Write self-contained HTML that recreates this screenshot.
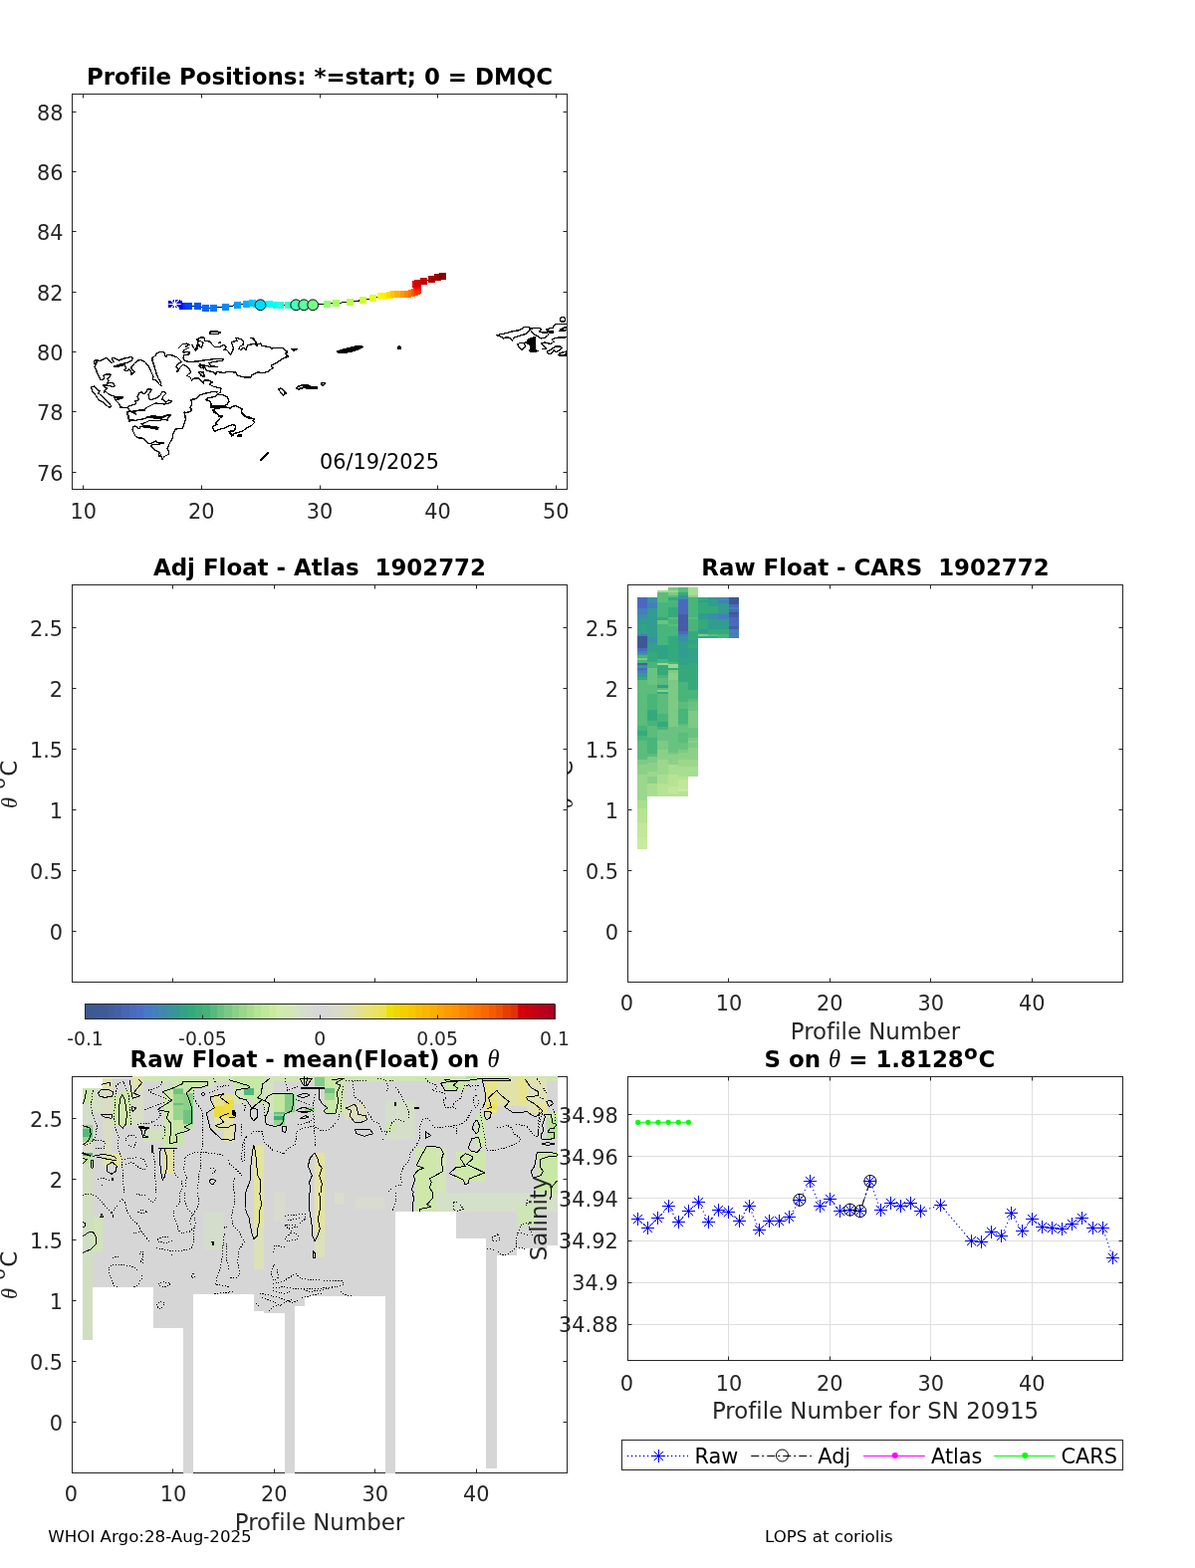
<!DOCTYPE html>
<html><head><meta charset="utf-8"><title>Argo float 1902772</title>
<style>
html,body{margin:0;padding:0;background:#fff;}
body{width:1200px;height:1575px;overflow:hidden;}
svg{display:block;font-family:'DejaVu Sans','Liberation Sans',sans-serif;font-variant-ligatures:none;font-feature-settings:'liga' 0,'clig' 0;}
</style></head><body>
<svg width="1200" height="1575" viewBox="0 0 1200 1575">
<rect x="0" y="0" width="1200" height="1575" fill="#ffffff"/>
<g shape-rendering="crispEdges">
<rect x="640.00" y="600.00" width="10.00" height="11.00" fill="#4c68be" />
<rect x="640.00" y="611.00" width="10.00" height="6.00" fill="#467dbe" />
<rect x="640.00" y="617.00" width="10.00" height="5.00" fill="#3a8ea8" />
<rect x="640.00" y="622.00" width="10.00" height="5.00" fill="#309d8e" />
<rect x="640.00" y="627.00" width="10.00" height="10.00" fill="#30a286" />
<rect x="640.00" y="637.00" width="10.00" height="2.00" fill="#467dbe" />
<rect x="640.00" y="639.00" width="10.00" height="12.00" fill="#3e5894" />
<rect x="640.00" y="651.00" width="10.00" height="3.00" fill="#4c68be" />
<rect x="640.00" y="654.00" width="10.00" height="2.00" fill="#467dbe" />
<rect x="640.00" y="656.00" width="10.00" height="2.00" fill="#309d8e" />
<rect x="640.00" y="658.00" width="10.00" height="3.00" fill="#48b57a" />
<rect x="640.00" y="661.00" width="10.00" height="2.00" fill="#7dca84" />
<rect x="640.00" y="663.00" width="10.00" height="3.00" fill="#48b57a" />
<rect x="640.00" y="666.00" width="10.00" height="2.00" fill="#465ca8" />
<rect x="640.00" y="668.00" width="10.00" height="3.00" fill="#309d8e" />
<rect x="640.00" y="671.00" width="10.00" height="2.00" fill="#4c68be" />
<rect x="640.00" y="673.00" width="10.00" height="3.00" fill="#467dbe" />
<rect x="640.00" y="676.00" width="10.00" height="4.00" fill="#309d8e" />
<rect x="640.00" y="680.00" width="10.00" height="3.00" fill="#34aa7c" />
<rect x="640.00" y="683.00" width="10.00" height="46.00" fill="#5cbc7c" />
<rect x="640.00" y="729.00" width="10.00" height="5.00" fill="#48b57a" />
<rect x="640.00" y="734.00" width="10.00" height="5.00" fill="#34aa7c" />
<rect x="640.00" y="739.00" width="10.00" height="5.00" fill="#48b57a" />
<rect x="640.00" y="744.00" width="10.00" height="19.00" fill="#5cbc7c" />
<rect x="640.00" y="763.00" width="10.00" height="5.00" fill="#7dca84" />
<rect x="640.00" y="768.00" width="10.00" height="10.00" fill="#8cd088" />
<rect x="640.00" y="778.00" width="10.00" height="26.00" fill="#9bd78c" />
<rect x="640.00" y="804.00" width="10.00" height="8.00" fill="#a8de91" />
<rect x="640.00" y="812.00" width="10.00" height="14.00" fill="#b6e394" />
<rect x="640.00" y="826.00" width="10.00" height="15.00" fill="#c2e79b" />
<rect x="640.00" y="841.00" width="10.00" height="12.00" fill="#c8eaa0" />
<rect x="650.00" y="600.00" width="10.00" height="6.00" fill="#3a8ea8" />
<rect x="650.00" y="606.00" width="10.00" height="5.00" fill="#467dbe" />
<rect x="650.00" y="611.00" width="10.00" height="29.00" fill="#309d8e" />
<rect x="650.00" y="640.00" width="10.00" height="5.00" fill="#3a8ea8" />
<rect x="650.00" y="645.00" width="10.00" height="3.00" fill="#309d8e" />
<rect x="650.00" y="648.00" width="10.00" height="7.00" fill="#30a286" />
<rect x="650.00" y="655.00" width="10.00" height="10.00" fill="#34aa7c" />
<rect x="650.00" y="665.00" width="10.00" height="6.00" fill="#48b57a" />
<rect x="650.00" y="671.00" width="10.00" height="17.00" fill="#69c380" />
<rect x="650.00" y="688.00" width="10.00" height="9.00" fill="#5cbc7c" />
<rect x="650.00" y="697.00" width="10.00" height="16.00" fill="#48b57a" />
<rect x="650.00" y="713.00" width="10.00" height="11.00" fill="#34aa7c" />
<rect x="650.00" y="724.00" width="10.00" height="5.00" fill="#48b57a" />
<rect x="650.00" y="729.00" width="10.00" height="12.00" fill="#5cbc7c" />
<rect x="650.00" y="741.00" width="10.00" height="16.00" fill="#48b57a" />
<rect x="650.00" y="757.00" width="10.00" height="3.00" fill="#5cbc7c" />
<rect x="650.00" y="760.00" width="10.00" height="6.00" fill="#7dca84" />
<rect x="650.00" y="766.00" width="10.00" height="9.00" fill="#8cd088" />
<rect x="650.00" y="775.00" width="10.00" height="5.00" fill="#9bd78c" />
<rect x="650.00" y="780.00" width="10.00" height="7.00" fill="#8cd088" />
<rect x="650.00" y="787.00" width="10.00" height="13.00" fill="#a8de91" />
<rect x="660.00" y="593.00" width="11.00" height="2.00" fill="#a8de91" />
<rect x="660.00" y="595.00" width="11.00" height="10.00" fill="#5cbc7c" />
<rect x="660.00" y="605.00" width="11.00" height="15.00" fill="#48b57a" />
<rect x="660.00" y="620.00" width="11.00" height="3.00" fill="#34aa7c" />
<rect x="660.00" y="623.00" width="11.00" height="4.00" fill="#69c380" />
<rect x="660.00" y="627.00" width="11.00" height="21.00" fill="#48b57a" />
<rect x="660.00" y="648.00" width="11.00" height="14.00" fill="#30a286" />
<rect x="660.00" y="662.00" width="11.00" height="4.00" fill="#48b57a" />
<rect x="660.00" y="666.00" width="11.00" height="2.00" fill="#9bd78c" />
<rect x="660.00" y="668.00" width="11.00" height="10.00" fill="#34aa7c" />
<rect x="660.00" y="678.00" width="11.00" height="3.00" fill="#48b57a" />
<rect x="660.00" y="681.00" width="11.00" height="7.00" fill="#5cbc7c" />
<rect x="660.00" y="688.00" width="11.00" height="3.00" fill="#309d8e" />
<rect x="660.00" y="691.00" width="11.00" height="2.00" fill="#5cbc7c" />
<rect x="660.00" y="693.00" width="11.00" height="2.00" fill="#8cd088" />
<rect x="660.00" y="695.00" width="11.00" height="2.00" fill="#34aa7c" />
<rect x="660.00" y="697.00" width="11.00" height="20.00" fill="#5cbc7c" />
<rect x="660.00" y="717.00" width="11.00" height="8.00" fill="#48b57a" />
<rect x="660.00" y="725.00" width="11.00" height="5.00" fill="#34aa7c" />
<rect x="660.00" y="730.00" width="11.00" height="3.00" fill="#48b57a" />
<rect x="660.00" y="733.00" width="11.00" height="11.00" fill="#69c380" />
<rect x="660.00" y="744.00" width="11.00" height="9.00" fill="#7dca84" />
<rect x="660.00" y="753.00" width="11.00" height="10.00" fill="#8cd088" />
<rect x="660.00" y="763.00" width="11.00" height="15.00" fill="#9bd78c" />
<rect x="660.00" y="778.00" width="11.00" height="9.00" fill="#a8de91" />
<rect x="660.00" y="787.00" width="11.00" height="13.00" fill="#b6e394" />
<rect x="671.00" y="590.00" width="10.00" height="3.00" fill="#7dca84" />
<rect x="671.00" y="593.00" width="10.00" height="2.00" fill="#9bd78c" />
<rect x="671.00" y="595.00" width="10.00" height="3.00" fill="#7dca84" />
<rect x="671.00" y="598.00" width="10.00" height="2.00" fill="#5cbc7c" />
<rect x="671.00" y="600.00" width="10.00" height="3.00" fill="#34aa7c" />
<rect x="671.00" y="603.00" width="10.00" height="7.00" fill="#48b57a" />
<rect x="671.00" y="610.00" width="10.00" height="10.00" fill="#34aa7c" />
<rect x="671.00" y="620.00" width="10.00" height="2.00" fill="#5cbc7c" />
<rect x="671.00" y="622.00" width="10.00" height="5.00" fill="#48b57a" />
<rect x="671.00" y="627.00" width="10.00" height="2.00" fill="#5cbc7c" />
<rect x="671.00" y="629.00" width="10.00" height="10.00" fill="#48b57a" />
<rect x="671.00" y="639.00" width="10.00" height="26.00" fill="#34aa7c" />
<rect x="671.00" y="665.00" width="10.00" height="2.00" fill="#48b57a" />
<rect x="671.00" y="667.00" width="10.00" height="4.00" fill="#9bd78c" />
<rect x="671.00" y="671.00" width="10.00" height="2.00" fill="#34aa7c" />
<rect x="671.00" y="673.00" width="10.00" height="3.00" fill="#7dca84" />
<rect x="671.00" y="676.00" width="10.00" height="7.00" fill="#8cd088" />
<rect x="671.00" y="683.00" width="10.00" height="47.00" fill="#7dca84" />
<rect x="671.00" y="730.00" width="10.00" height="26.00" fill="#69c380" />
<rect x="671.00" y="756.00" width="10.00" height="2.00" fill="#7dca84" />
<rect x="671.00" y="758.00" width="10.00" height="10.00" fill="#8cd088" />
<rect x="671.00" y="768.00" width="10.00" height="10.00" fill="#a8de91" />
<rect x="671.00" y="778.00" width="10.00" height="12.00" fill="#b6e394" />
<rect x="671.00" y="790.00" width="10.00" height="7.00" fill="#c2e79b" />
<rect x="671.00" y="797.00" width="10.00" height="3.00" fill="#b6e394" />
<rect x="681.00" y="590.00" width="10.00" height="5.00" fill="#5cbc7c" />
<rect x="681.00" y="595.00" width="10.00" height="3.00" fill="#34aa7c" />
<rect x="681.00" y="598.00" width="10.00" height="4.00" fill="#3a8ea8" />
<rect x="681.00" y="602.00" width="10.00" height="15.00" fill="#4c68be" />
<rect x="681.00" y="617.00" width="10.00" height="17.00" fill="#465ca8" />
<rect x="681.00" y="634.00" width="10.00" height="3.00" fill="#4c68be" />
<rect x="681.00" y="637.00" width="10.00" height="2.00" fill="#467dbe" />
<rect x="681.00" y="639.00" width="10.00" height="5.00" fill="#3a8ea8" />
<rect x="681.00" y="644.00" width="10.00" height="16.00" fill="#309d8e" />
<rect x="681.00" y="660.00" width="10.00" height="8.00" fill="#30a286" />
<rect x="681.00" y="668.00" width="10.00" height="17.00" fill="#34aa7c" />
<rect x="681.00" y="685.00" width="10.00" height="20.00" fill="#48b57a" />
<rect x="681.00" y="705.00" width="10.00" height="7.00" fill="#5cbc7c" />
<rect x="681.00" y="712.00" width="10.00" height="15.00" fill="#48b57a" />
<rect x="681.00" y="727.00" width="10.00" height="2.00" fill="#5cbc7c" />
<rect x="681.00" y="729.00" width="10.00" height="7.00" fill="#69c380" />
<rect x="681.00" y="736.00" width="10.00" height="10.00" fill="#5cbc7c" />
<rect x="681.00" y="746.00" width="10.00" height="7.00" fill="#69c380" />
<rect x="681.00" y="753.00" width="10.00" height="3.00" fill="#7dca84" />
<rect x="681.00" y="756.00" width="10.00" height="7.00" fill="#8cd088" />
<rect x="681.00" y="763.00" width="10.00" height="7.00" fill="#9bd78c" />
<rect x="681.00" y="770.00" width="10.00" height="10.00" fill="#a8de91" />
<rect x="681.00" y="780.00" width="10.00" height="3.00" fill="#b6e394" />
<rect x="681.00" y="783.00" width="10.00" height="9.00" fill="#c2e79b" />
<rect x="681.00" y="792.00" width="10.00" height="3.00" fill="#c8eaa0" />
<rect x="681.00" y="795.00" width="10.00" height="5.00" fill="#b6e394" />
<rect x="691.00" y="590.00" width="10.00" height="8.00" fill="#a8de91" />
<rect x="691.00" y="598.00" width="10.00" height="2.00" fill="#8cd088" />
<rect x="691.00" y="600.00" width="10.00" height="20.00" fill="#48b57a" />
<rect x="691.00" y="620.00" width="10.00" height="2.00" fill="#5cbc7c" />
<rect x="691.00" y="622.00" width="10.00" height="12.00" fill="#48b57a" />
<rect x="691.00" y="634.00" width="10.00" height="9.00" fill="#34aa7c" />
<rect x="691.00" y="643.00" width="10.00" height="4.00" fill="#30a286" />
<rect x="691.00" y="647.00" width="10.00" height="4.00" fill="#34aa7c" />
<rect x="691.00" y="651.00" width="10.00" height="15.00" fill="#30a286" />
<rect x="691.00" y="666.00" width="10.00" height="27.00" fill="#34aa7c" />
<rect x="691.00" y="693.00" width="10.00" height="9.00" fill="#48b57a" />
<rect x="691.00" y="702.00" width="10.00" height="3.00" fill="#5cbc7c" />
<rect x="691.00" y="705.00" width="10.00" height="9.00" fill="#69c380" />
<rect x="691.00" y="714.00" width="10.00" height="17.00" fill="#7dca84" />
<rect x="691.00" y="731.00" width="10.00" height="10.00" fill="#69c380" />
<rect x="691.00" y="741.00" width="10.00" height="3.00" fill="#7dca84" />
<rect x="691.00" y="744.00" width="10.00" height="2.00" fill="#8cd088" />
<rect x="691.00" y="746.00" width="10.00" height="5.00" fill="#7dca84" />
<rect x="691.00" y="751.00" width="10.00" height="12.00" fill="#8cd088" />
<rect x="691.00" y="763.00" width="10.00" height="7.00" fill="#9bd78c" />
<rect x="691.00" y="770.00" width="10.00" height="10.00" fill="#a8de91" />
<rect x="701.00" y="600.00" width="10.00" height="3.00" fill="#34aa7c" />
<rect x="701.00" y="603.00" width="10.00" height="2.00" fill="#309d8e" />
<rect x="701.00" y="605.00" width="10.00" height="11.00" fill="#34aa7c" />
<rect x="701.00" y="616.00" width="10.00" height="6.00" fill="#309d8e" />
<rect x="701.00" y="622.00" width="10.00" height="10.00" fill="#34aa7c" />
<rect x="701.00" y="632.00" width="10.00" height="4.00" fill="#309d8e" />
<rect x="701.00" y="636.00" width="10.00" height="1.00" fill="#34aa7c" />
<rect x="701.00" y="637.00" width="10.00" height="2.00" fill="#7dca84" />
<rect x="701.00" y="639.00" width="10.00" height="1.50" fill="#34aa7c" />
<rect x="711.00" y="600.00" width="10.00" height="9.00" fill="#309d8e" />
<rect x="711.00" y="609.00" width="10.00" height="7.00" fill="#34aa7c" />
<rect x="711.00" y="616.00" width="10.00" height="6.00" fill="#3a8ea8" />
<rect x="711.00" y="622.00" width="10.00" height="10.00" fill="#309d8e" />
<rect x="711.00" y="632.00" width="10.00" height="5.00" fill="#34aa7c" />
<rect x="711.00" y="637.00" width="10.00" height="2.00" fill="#5cbc7c" />
<rect x="711.00" y="639.00" width="10.00" height="1.50" fill="#34aa7c" />
<rect x="721.00" y="600.00" width="11.00" height="3.00" fill="#3a8ea8" />
<rect x="721.00" y="603.00" width="11.00" height="3.00" fill="#467dbe" />
<rect x="721.00" y="606.00" width="11.00" height="11.00" fill="#309d8e" />
<rect x="721.00" y="617.00" width="11.00" height="5.00" fill="#467dbe" />
<rect x="721.00" y="622.00" width="11.00" height="10.00" fill="#309d8e" />
<rect x="721.00" y="632.00" width="11.00" height="5.00" fill="#34aa7c" />
<rect x="721.00" y="637.00" width="11.00" height="3.50" fill="#48b57a" />
<rect x="732.00" y="600.00" width="10.00" height="7.00" fill="#3e5894" />
<rect x="732.00" y="607.00" width="10.00" height="3.00" fill="#4c68be" />
<rect x="732.00" y="610.00" width="10.00" height="2.00" fill="#467dbe" />
<rect x="732.00" y="612.00" width="10.00" height="3.00" fill="#4c68be" />
<rect x="732.00" y="615.00" width="10.00" height="2.00" fill="#3e5894" />
<rect x="732.00" y="617.00" width="10.00" height="3.00" fill="#465ca8" />
<rect x="732.00" y="620.00" width="10.00" height="9.00" fill="#4c68be" />
<rect x="732.00" y="629.00" width="10.00" height="3.00" fill="#465ca8" />
<rect x="732.00" y="632.00" width="10.00" height="8.50" fill="#467dbe" />
</g>
<clipPath id="clp1"><rect x="72.5" y="94.5" width="497" height="397"/></clipPath>
<g clip-path="url(#clp1)" shape-rendering="crispEdges">
<polyline points="94.5,361.5 98.0,361.5 100.0,363.0 104.0,360.5 106.5,359.5 110.0,362.5 112.0,364.5 114.0,363.5 112.5,360.0 115.0,359.5 119.0,362.0 125.0,360.0 132.0,358.5 133.5,360.0 132.0,362.5 127.0,364.5 119.0,366.5 114.5,368.0 117.0,368.5 125.0,366.5 126.5,370.0 124.5,371.5 127.0,373.0 129.5,371.0 132.0,374.0 132.0,376.5 134.5,374.5 135.0,373.0 132.0,371.0 132.0,368.5 135.0,365.0 138.5,362.0 142.0,361.5 146.0,364.0 149.5,368.0 151.5,373.0 154.0,378.0 153.5,381.0 157.0,382.0 159.5,385.5 162.0,388.0 161.5,384.5 159.0,380.0 157.0,375.0 155.0,368.0 153.0,362.0 153.0,359.5 156.5,357.0 157.5,354.5 162.0,353.5 165.0,354.0 165.5,357.0 167.0,359.0 168.0,356.5 173.0,357.0 178.0,359.0 182.5,363.5 178.5,365.5 177.0,368.5 179.5,370.5 177.0,374.0 179.5,372.0 181.0,369.0 183.5,366.5 187.0,367.5 190.0,370.0 191.5,374.0 189.0,376.0 188.0,377.5 191.0,379.0 192.5,382.0 195.0,380.0 200.0,380.0 204.0,384.0 205.0,386.0" fill="none" stroke="#000" stroke-width="1.3" stroke-linejoin="round"/>
<polyline points="94.5,361.5 94.5,365.0 97.0,364.5 95.0,368.5 96.5,371.0 97.5,375.0 100.0,379.0 101.0,382.0 104.5,380.5 104.0,377.0 106.5,376.0 111.0,376.0 110.5,378.5 108.0,380.0 109.0,383.0 107.5,385.0 112.0,384.5 114.5,385.5 115.0,387.5 113.0,389.0 110.5,387.5 106.5,387.0 103.0,387.0 105.5,389.0 107.5,390.0 105.0,392.5 104.0,394.0 106.5,393.5 108.5,395.5 114.0,398.0 117.0,399.0 123.5,398.5 122.0,400.5 117.0,401.5 115.0,401.0 118.0,404.0 120.0,406.0 120.5,409.0 128.0,409.5 130.5,407.5 135.0,406.5 137.0,404.0 135.5,403.0 139.5,401.5 138.0,399.0 139.5,395.0 142.0,393.5 144.0,396.0 147.0,394.0 148.0,391.0 152.0,391.0 151.0,394.0 149.0,396.0 149.5,400.5 151.5,401.5 157.0,400.0 161.0,397.0 162.5,394.0 165.5,393.5 166.5,395.5 164.0,398.0 162.5,401.5 165.0,402.0 166.5,404.5 169.0,402.0 172.5,403.0 170.0,405.0 165.0,406.0 162.0,405.5 156.0,405.0 151.0,407.5 146.0,410.0 145.0,413.0 141.0,411.5 137.0,413.0 134.0,412.5 136.5,416.0 131.0,413.0 127.5,413.5 129.0,417.0 129.5,420.0" fill="none" stroke="#000" stroke-width="1.3" stroke-linejoin="round"/>
<polyline points="91.5,388.5 95.0,388.0 97.5,391.5 100.0,392.5 98.5,395.0 101.5,397.0 105.0,400.5 108.5,404.0 111.5,407.5 110.0,409.5 106.0,406.5 102.5,403.5 99.0,402.0 97.5,399.0 95.0,395.5 92.5,392.5 91.5,388.5" fill="none" stroke="#000" stroke-width="1.3" stroke-linejoin="round"/>
<polyline points="178.5,350.5 183.5,345.5 188.0,345.0 190.0,346.5 186.0,348.0 189.0,349.5 185.0,351.5 184.0,354.0 190.0,353.5 190.0,356.0 185.0,356.5 184.0,360.0 186.0,362.5 190.0,363.5 205.0,362.5" fill="none" stroke="#000" stroke-width="1.3" stroke-linejoin="round"/>
<polyline points="192.5,346.0 195.0,350.0 196.5,352.5 199.0,349.0 197.0,346.0 200.0,347.5 202.5,349.0 204.0,344.0 198.0,341.0 202.0,339.0 205.0,338.5" fill="none" stroke="#000" stroke-width="1.3" stroke-linejoin="round"/>
<polyline points="205.0,395.5 200.0,397.0 198.0,400.0 192.0,401.5 192.5,406.0 191.0,410.0 192.5,412.0 189.0,414.5 185.0,414.0 185.5,418.0 186.0,420.0" fill="none" stroke="#000" stroke-width="1.3" stroke-linejoin="round"/>
<polyline points="147.5,419.0 153.0,418.0 163.0,419.0 168.0,417.0 171.0,417.0" fill="none" stroke="#000" stroke-width="1.8" stroke-linejoin="round"/>
<polyline points="200.0,366.0 205.0,366.5" fill="none" stroke="#000" stroke-width="1.3" stroke-linejoin="round"/>
<polyline points="200.0,368.5 205.0,370.0" fill="none" stroke="#000" stroke-width="1.3" stroke-linejoin="round"/>
<polyline points="199.5,374.0 202.0,377.0 205.0,378.0" fill="none" stroke="#000" stroke-width="1.3" stroke-linejoin="round"/>
<polyline points="114.0,399.0 119.0,400.0 123.5,398.8" fill="none" stroke="#000" stroke-width="1.8" stroke-linejoin="round"/>
<polyline points="95.0,362.0 97.5,363.5 96.0,366.0" fill="none" stroke="#000" stroke-width="2" stroke-linejoin="round"/>
<polyline points="199.5,367.0 205.0,368.5 208.0,372.5 214.0,373.5 216.5,376.5 217.5,373.5 225.0,374.5 228.0,373.5 237.0,374.0 237.5,376.5 241.0,378.0 246.0,379.0 252.0,379.0 253.0,376.5 259.0,374.0 265.0,374.5 269.5,373.0 274.0,369.5 272.0,367.0 278.0,364.5 283.0,360.5 288.5,358.0 286.5,355.0 288.5,353.5 284.0,349.5 274.0,349.5 272.5,350.5 271.0,348.5 263.0,347.5 261.5,345.0 258.5,346.0 258.0,347.5 255.5,345.5 249.0,346.5 247.0,351.5 245.0,349.5 243.0,350.0 242.0,351.5 240.0,350.5 241.0,348.0 244.0,346.5 244.5,342.5 241.5,340.5 237.0,339.5 238.0,342.5 235.0,343.0 232.5,343.5 233.5,347.0 234.5,349.5 233.0,354.0 231.5,356.0 229.0,353.0 227.0,351.0 225.0,351.5 227.5,348.5 225.0,346.5 222.0,347.5 221.5,348.5 215.5,348.5 213.0,346.0 210.5,343.0 205.5,342.5 205.0,339.0 202.0,339.0 197.5,341.0 199.5,343.0 198.0,345.0 200.0,346.5 195.0,351.5" fill="none" stroke="#000" stroke-width="1.3" stroke-linejoin="round"/>
<polyline points="195.0,363.0 201.0,362.5 208.0,361.5 218.0,360.5 224.5,360.5 223.0,362.5 218.0,363.0 210.0,364.5 211.5,367.5 218.5,368.5 212.0,368.5 205.0,367.0 199.5,367.0" fill="none" stroke="#000" stroke-width="1.3" stroke-linejoin="round"/>
<polyline points="210.5,333.0 221.5,333.5 219.0,335.5 211.0,335.5 210.5,333.0" fill="none" stroke="#000" stroke-width="1.8" stroke-linejoin="round"/>
<polyline points="292.5,350.5 298.5,350.5 295.0,352.0 292.5,350.5" fill="none" stroke="#000" stroke-width="1.6" stroke-linejoin="round"/>
<polyline points="251.5,339.5 254.5,340.0 256.5,343.5 258.5,346.0" fill="none" stroke="#000" stroke-width="1.6" stroke-linejoin="round"/>
<polyline points="219.5,344.5 222.5,343.5" fill="none" stroke="#000" stroke-width="1.3" stroke-linejoin="round"/>
<polyline points="195.0,380.0 200.0,380.5 203.5,384.5 205.0,382.0 210.0,382.0 213.5,384.0 210.0,386.0 215.0,388.5 222.0,390.0 221.5,394.0 218.5,396.0 224.0,396.5 228.5,399.0 230.0,404.0 227.0,407.0 220.0,408.5 212.0,409.0 212.5,406.0 210.0,402.5 207.0,401.0 209.5,399.5 216.0,398.5 218.5,396.0" fill="none" stroke="#000" stroke-width="1.3" stroke-linejoin="round"/>
<polyline points="195.0,401.5 198.0,400.0 199.5,397.5 205.0,395.5 214.0,393.5 218.5,394.0" fill="none" stroke="#000" stroke-width="1.3" stroke-linejoin="round"/>
<polyline points="199.5,373.5 204.5,374.0 205.0,378.5 202.0,377.0 199.5,373.5" fill="none" stroke="#000" stroke-width="1.6" stroke-linejoin="round"/>
<polyline points="212.0,409.0 216.5,410.0 228.0,409.5 231.5,410.0 233.0,408.5 237.0,407.5 242.0,410.0 242.5,414.0 246.0,418.0 253.0,419.5" fill="none" stroke="#000" stroke-width="1.3" stroke-linejoin="round"/>
<polyline points="213.5,411.5 216.5,414.0 220.0,418.0 223.5,418.0 221.0,420.0" fill="none" stroke="#000" stroke-width="1.3" stroke-linejoin="round"/>
<polyline points="279.5,391.0 282.0,390.0 287.5,394.5 284.5,397.5 279.5,391.0" fill="none" stroke="#000" stroke-width="1.3" stroke-linejoin="round"/>
<polyline points="338.5,353.0 345.0,351.0 355.0,348.5 361.0,347.5 364.0,348.5 361.0,350.5 353.0,353.0 344.0,354.5 339.5,354.5 338.5,353.0" fill="#000" stroke="#000" stroke-width="1.6" stroke-linejoin="round"/>
<polyline points="399.5,348.0 402.0,348.0 402.0,350.5 399.5,350.5 399.5,348.0" fill="#000" stroke="#000" stroke-width="1.3" stroke-linejoin="round"/>
<polyline points="297.5,390.0 300.0,388.0 305.0,386.5 309.0,387.0 313.0,388.5 318.5,388.5 318.0,390.5 313.0,390.5 305.0,389.5 302.0,390.0 300.0,391.5 297.5,390.0" fill="none" stroke="#000" stroke-width="1.5" stroke-linejoin="round"/>
<polyline points="304.0,387.5 318.0,389.5" fill="none" stroke="#000" stroke-width="2.2" stroke-linejoin="round"/>
<polyline points="322.5,384.5 326.5,385.0 323.5,387.5 322.5,384.5" fill="none" stroke="#000" stroke-width="1.5" stroke-linejoin="round"/>
<polyline points="285.0,351.5 288.5,352.5 287.5,356.0 289.5,358.5 285.0,359.5" fill="none" stroke="#000" stroke-width="1.3" stroke-linejoin="round"/>
<polyline points="285.0,395.0 287.5,395.0" fill="none" stroke="#000" stroke-width="1.6" stroke-linejoin="round"/>
<polyline points="127.5,413.5 128.5,418.0 129.5,423.0 135.0,422.5 143.0,421.0 150.5,419.0 155.0,420.0 163.0,420.0 167.0,417.0 171.5,417.0 169.0,419.0 168.5,422.0 164.0,421.5 159.0,422.5 150.0,422.5 145.0,425.0 142.0,425.5 144.0,427.5 155.0,428.5 159.0,429.5 158.5,431.5 150.0,429.5 141.0,428.5 140.0,431.0 136.0,428.0 133.5,428.5 133.0,432.0 135.0,436.0 136.0,438.0 139.0,440.0 143.0,440.0 146.0,442.5 149.0,445.5 153.0,445.0 156.5,443.0 159.0,445.0 164.5,445.0 159.0,446.5 153.0,446.5 151.5,448.5 155.0,451.5 160.0,454.5 159.5,458.5 161.5,457.0 163.0,461.5 165.0,458.5 169.0,456.5 170.0,454.0 168.0,451.0 169.5,447.0 171.0,444.0 173.0,441.0 174.0,435.0 176.5,431.0 183.0,430.5 185.0,426.0 186.5,421.0 185.5,414.5 189.5,414.0 193.0,412.0 192.0,410.0" fill="none" stroke="#000" stroke-width="1.3" stroke-linejoin="round"/>
<polyline points="128.5,410.0 130.0,412.5 135.5,414.5 136.5,412.5 145.0,412.0 146.5,410.0" fill="none" stroke="#000" stroke-width="1.3" stroke-linejoin="round"/>
<polyline points="145.0,428.0 158.0,430.0" fill="none" stroke="#000" stroke-width="2.2" stroke-linejoin="round"/>
<polyline points="129.0,422.0 135.0,421.8" fill="none" stroke="#000" stroke-width="2" stroke-linejoin="round"/>
<polyline points="230.0,434.0 235.0,433.5" fill="none" stroke="#000" stroke-width="1.3" stroke-linejoin="round"/>
<polyline points="230.0,434.0 232.5,437.5 235.0,437.0" fill="none" stroke="#000" stroke-width="1.3" stroke-linejoin="round"/>
<polyline points="213.5,412.0 215.0,414.5 218.5,416.0 220.0,418.5 223.5,418.0 220.5,420.5 218.5,423.5 216.5,425.0 218.0,426.5 214.5,427.5 213.5,430.0 215.5,433.5 219.0,431.5 224.0,430.5 229.5,428.0 233.5,426.5 236.5,427.5 236.0,432.0 232.5,432.5 230.0,433.5 232.0,435.0 232.5,438.5 235.0,435.5 239.0,434.5 244.5,432.5 248.0,429.5 252.0,428.0 255.5,424.5 254.0,422.5 255.5,421.0 249.0,420.0 245.0,418.0 242.5,415.0 243.0,410.5 240.0,409.5 237.0,407.5 233.0,409.0 231.5,410.0 228.0,409.5 218.0,410.0 213.5,412.0" fill="none" stroke="#000" stroke-width="1.3" stroke-linejoin="round"/>
<polyline points="211.0,409.0 217.0,408.2 227.5,407.8" fill="none" stroke="#000" stroke-width="2.4" stroke-linejoin="round"/>
<polyline points="227.5,407.5 229.5,404.0 229.0,400.0" fill="none" stroke="#000" stroke-width="1.3" stroke-linejoin="round"/>
<polyline points="206.5,401.5 211.0,403.0 212.0,408.0" fill="none" stroke="#000" stroke-width="1.3" stroke-linejoin="round"/>
<polyline points="238.5,437.0 242.5,437.0 242.0,438.5 238.5,438.5 238.5,437.0" fill="#000" stroke="#000" stroke-width="1.3" stroke-linejoin="round"/>
<polyline points="261.5,463.0 265.0,459.0 269.5,454.5" fill="none" stroke="#000" stroke-width="2" stroke-linejoin="round"/>
<polyline points="498.3,336.7 508.3,334.6 515.8,332.5 521.7,331.7 525.8,328.8 531.7,328.8 533.3,330.8 530.0,333.3 527.9,335.4 522.5,337.1 516.7,338.8 514.2,342.1 511.7,339.2 507.5,338.8 505.8,340.0 502.5,337.9 498.3,336.7" fill="none" stroke="#000" stroke-width="1.3" stroke-linejoin="round"/>
<polyline points="531.7,330.0 541.7,329.6 543.3,331.2 541.2,332.9 545.0,334.2 549.2,333.8 550.8,336.2 547.5,339.2 543.3,340.0 540.0,337.9 535.8,335.8 533.3,332.5 531.7,330.0" fill="none" stroke="#000" stroke-width="1.3" stroke-linejoin="round"/>
<polyline points="569.6,325.4 563.3,325.8 557.5,325.4 555.0,329.2 548.3,330.8 550.8,333.8 555.0,334.2 555.4,332.5 550.0,332.1" fill="none" stroke="#000" stroke-width="1.3" stroke-linejoin="round"/>
<polyline points="561.7,331.7 566.7,329.2 570.4,328.8 570.4,331.2 563.3,332.5 561.7,331.7" fill="none" stroke="#000" stroke-width="1.8" stroke-linejoin="round"/>
<circle cx="565.0" cy="320.8" r="2.4" fill="none" stroke="#000" stroke-width="1.3"/>
<polyline points="569.6,338.8 558.3,339.2 554.2,341.2 556.2,343.3 552.5,345.4 546.7,343.8 543.3,345.0 545.8,347.1 548.3,350.0 544.2,350.4" fill="none" stroke="#000" stroke-width="1.3" stroke-linejoin="round"/>
<polyline points="530.0,340.8 537.5,338.3 537.5,351.7 540.0,352.5 536.7,353.3 533.3,353.8 531.2,352.1 533.3,350.4 532.1,346.7 530.0,345.0 526.7,344.2 530.0,342.9 530.0,340.8" fill="#000" stroke="#000" stroke-width="1.3" stroke-linejoin="round"/>
<polyline points="519.6,345.8 522.5,344.2 526.7,345.0 527.5,348.3 524.2,351.2 520.8,348.8 519.6,345.8" fill="none" stroke="#000" stroke-width="1.3" stroke-linejoin="round"/>
<polyline points="549.2,353.3 553.3,351.2 557.5,347.9 562.5,347.9 564.2,349.6 560.0,352.9 558.3,353.8 556.2,351.7 553.3,355.0 550.8,355.8 549.2,353.3" fill="none" stroke="#000" stroke-width="1.4" stroke-linejoin="round"/>
<polyline points="560.8,355.4 565.8,353.8 570.4,352.9 568.3,355.0 567.9,357.1 561.7,357.1 560.8,355.4" fill="none" stroke="#000" stroke-width="1.6" stroke-linejoin="round"/>
</g>
<polyline fill="none" stroke="#000" stroke-width="1" shape-rendering="crispEdges" points="172.5,305.5 177.0,304.6 180.0,306.0 183.5,307.4 185.0,307.4 186.5,307.4 188.0,307.4 189.3,307.4 198.2,307.5 206.5,309.3 214.5,309.3 226.5,308.2 238.3,306.3 247.5,305.2 253.0,304.5 257.0,305.3 261.5,306.3 270.2,305.5 277.0,306.3 281.5,306.3 289.0,306.3 297.2,306.3 305.2,306.3 314.2,306.3 328.5,305.4 337.5,304.4 351.5,303.4 364.5,301.4 374.5,299.4 382.3,297.5 385.6,297.5 391.3,296.3 395.6,295.6 400.0,295.4 405.0,295.4 409.4,295.4 413.0,294.4 416.3,293.0 418.5,292.3 419.4,291.9 419.4,288.8 418.5,286.5 417.5,285.0 420.0,284.4 425.6,282.5 433.5,280.4 439.4,278.5 444.6,277.5"/>
<g shape-rendering="crispEdges">
<rect x="169.00" y="302.00" width="7.00" height="7.00" fill="#0000cd" />
<rect x="174.00" y="301.00" width="7.00" height="7.00" fill="#0000dc" />
<rect x="176.00" y="302.00" width="7.00" height="7.00" fill="#0000ec" />
<rect x="180.00" y="304.00" width="7.00" height="7.00" fill="#0000fc" />
<rect x="182.00" y="304.00" width="7.00" height="7.00" fill="#000eff" />
<rect x="183.00" y="304.00" width="7.00" height="7.00" fill="#001eff" />
<rect x="184.00" y="304.00" width="7.00" height="7.00" fill="#0030ff" />
<rect x="186.00" y="304.00" width="7.00" height="7.00" fill="#0041ff" />
<rect x="195.00" y="304.00" width="7.00" height="7.00" fill="#0053ff" />
<rect x="203.00" y="306.00" width="7.00" height="7.00" fill="#0065ff" />
<rect x="211.00" y="306.00" width="7.00" height="7.00" fill="#0077ff" />
<rect x="223.00" y="305.00" width="7.00" height="7.00" fill="#008aff" />
<rect x="235.00" y="303.00" width="7.00" height="7.00" fill="#009dff" />
<rect x="244.00" y="302.00" width="7.00" height="7.00" fill="#00b0ff" />
<rect x="250.00" y="301.00" width="7.00" height="7.00" fill="#00c3ff" />
<rect x="254.00" y="302.00" width="7.00" height="7.00" fill="#00d7ff" />
<rect x="258.00" y="303.00" width="7.00" height="7.00" fill="#00eaff" />
<rect x="267.00" y="302.00" width="7.00" height="7.00" fill="#00feff" />
<rect x="274.00" y="303.00" width="7.00" height="7.00" fill="#13ffec" />
<rect x="278.00" y="303.00" width="7.00" height="7.00" fill="#28ffd7" />
<rect x="286.00" y="303.00" width="7.00" height="7.00" fill="#3cffc3" />
<rect x="294.00" y="303.00" width="7.00" height="7.00" fill="#51ffae" />
<rect x="302.00" y="303.00" width="7.00" height="7.00" fill="#65ff9a" />
<rect x="311.00" y="303.00" width="7.00" height="7.00" fill="#7aff85" />
<rect x="325.00" y="302.00" width="7.00" height="7.00" fill="#8fff70" />
<rect x="334.00" y="301.00" width="7.00" height="7.00" fill="#a4ff5b" />
<rect x="348.00" y="300.00" width="7.00" height="7.00" fill="#b9ff46" />
<rect x="361.00" y="298.00" width="7.00" height="7.00" fill="#ceff31" />
<rect x="371.00" y="296.00" width="7.00" height="7.00" fill="#e3ff1c" />
<rect x="379.00" y="294.00" width="7.00" height="7.00" fill="#f9ff06" />
<rect x="382.00" y="294.00" width="7.00" height="7.00" fill="#fff000" />
<rect x="388.00" y="293.00" width="7.00" height="7.00" fill="#ffdb00" />
<rect x="392.00" y="292.00" width="7.00" height="7.00" fill="#ffc500" />
<rect x="396.00" y="292.00" width="7.00" height="7.00" fill="#ffb000" />
<rect x="402.00" y="292.00" width="7.00" height="7.00" fill="#ff9a00" />
<rect x="406.00" y="292.00" width="7.00" height="7.00" fill="#ff8500" />
<rect x="410.00" y="291.00" width="7.00" height="7.00" fill="#ff6f00" />
<rect x="413.00" y="290.00" width="7.00" height="7.00" fill="#ff5900" />
<rect x="415.00" y="289.00" width="7.00" height="7.00" fill="#ff4400" />
<rect x="416.00" y="288.00" width="7.00" height="7.00" fill="#ff2e00" />
<rect x="416.00" y="285.00" width="7.00" height="7.00" fill="#ff1800" />
<rect x="415.00" y="283.00" width="7.00" height="7.00" fill="#ff0300" />
<rect x="414.00" y="282.00" width="7.00" height="7.00" fill="#ec0000" />
<rect x="416.00" y="281.00" width="7.00" height="7.00" fill="#d60000" />
<rect x="422.00" y="279.00" width="7.00" height="7.00" fill="#c10000" />
<rect x="430.00" y="277.00" width="7.00" height="7.00" fill="#ab0000" />
<rect x="436.00" y="275.00" width="7.00" height="7.00" fill="#950000" />
<rect x="441.00" y="274.00" width="7.00" height="7.00" fill="#800000" />
</g>
<circle cx="261.5" cy="306.3" r="5.4" fill="#00dcff" stroke="#000" stroke-width="1"/>
<circle cx="297.2" cy="306.3" r="5.4" fill="#49ffb6" stroke="#000" stroke-width="1"/>
<circle cx="305.2" cy="306.3" r="5.4" fill="#5fffa0" stroke="#000" stroke-width="1"/>
<circle cx="314.2" cy="306.3" r="5.4" fill="#75ff8a" stroke="#000" stroke-width="1"/>
<path d="M169.30 305.50H181.70M175.50 299.30V311.70M171.12 301.12L179.88 309.88M171.12 309.88L179.88 301.12" stroke="#fff" stroke-width="1.2" fill="none"/>
<rect x="72.5" y="94.5" width="497.0" height="397.0" fill="none" stroke="#262626" stroke-width="1"/>
<line x1="83.50" y1="491.50" x2="83.50" y2="487.50" stroke="#262626" stroke-width="1" />
<line x1="83.50" y1="94.50" x2="83.50" y2="98.50" stroke="#262626" stroke-width="1" />
<line x1="202.50" y1="491.50" x2="202.50" y2="487.50" stroke="#262626" stroke-width="1" />
<line x1="202.50" y1="94.50" x2="202.50" y2="98.50" stroke="#262626" stroke-width="1" />
<line x1="321.50" y1="491.50" x2="321.50" y2="487.50" stroke="#262626" stroke-width="1" />
<line x1="321.50" y1="94.50" x2="321.50" y2="98.50" stroke="#262626" stroke-width="1" />
<line x1="439.50" y1="491.50" x2="439.50" y2="487.50" stroke="#262626" stroke-width="1" />
<line x1="439.50" y1="94.50" x2="439.50" y2="98.50" stroke="#262626" stroke-width="1" />
<line x1="558.50" y1="491.50" x2="558.50" y2="487.50" stroke="#262626" stroke-width="1" />
<line x1="558.50" y1="94.50" x2="558.50" y2="98.50" stroke="#262626" stroke-width="1" />
<line x1="72.50" y1="474.50" x2="76.50" y2="474.50" stroke="#262626" stroke-width="1" />
<line x1="569.50" y1="474.50" x2="565.50" y2="474.50" stroke="#262626" stroke-width="1" />
<line x1="72.50" y1="413.50" x2="76.50" y2="413.50" stroke="#262626" stroke-width="1" />
<line x1="569.50" y1="413.50" x2="565.50" y2="413.50" stroke="#262626" stroke-width="1" />
<line x1="72.50" y1="353.50" x2="76.50" y2="353.50" stroke="#262626" stroke-width="1" />
<line x1="569.50" y1="353.50" x2="565.50" y2="353.50" stroke="#262626" stroke-width="1" />
<line x1="72.50" y1="293.50" x2="76.50" y2="293.50" stroke="#262626" stroke-width="1" />
<line x1="569.50" y1="293.50" x2="565.50" y2="293.50" stroke="#262626" stroke-width="1" />
<line x1="72.50" y1="232.50" x2="76.50" y2="232.50" stroke="#262626" stroke-width="1" />
<line x1="569.50" y1="232.50" x2="565.50" y2="232.50" stroke="#262626" stroke-width="1" />
<line x1="72.50" y1="172.50" x2="76.50" y2="172.50" stroke="#262626" stroke-width="1" />
<line x1="569.50" y1="172.50" x2="565.50" y2="172.50" stroke="#262626" stroke-width="1" />
<line x1="72.50" y1="112.50" x2="76.50" y2="112.50" stroke="#262626" stroke-width="1" />
<line x1="569.50" y1="112.50" x2="565.50" y2="112.50" stroke="#262626" stroke-width="1" />
<text x="83.75" y="520.50" font-size="20.83" text-anchor="middle" font-weight="normal" fill="#262626" >10</text>
<text x="202.38" y="520.50" font-size="20.83" text-anchor="middle" font-weight="normal" fill="#262626" >20</text>
<text x="321.00" y="520.50" font-size="20.83" text-anchor="middle" font-weight="normal" fill="#262626" >30</text>
<text x="439.62" y="520.50" font-size="20.83" text-anchor="middle" font-weight="normal" fill="#262626" >40</text>
<text x="558.25" y="520.50" font-size="20.83" text-anchor="middle" font-weight="normal" fill="#262626" >50</text>
<text x="63.40" y="482.78" font-size="20.83" text-anchor="end" font-weight="normal" fill="#262626" >76</text>
<text x="63.40" y="422.40" font-size="20.83" text-anchor="end" font-weight="normal" fill="#262626" >78</text>
<text x="63.40" y="362.02" font-size="20.83" text-anchor="end" font-weight="normal" fill="#262626" >80</text>
<text x="63.40" y="301.64" font-size="20.83" text-anchor="end" font-weight="normal" fill="#262626" >82</text>
<text x="63.40" y="241.26" font-size="20.83" text-anchor="end" font-weight="normal" fill="#262626" >84</text>
<text x="63.40" y="180.88" font-size="20.83" text-anchor="end" font-weight="normal" fill="#262626" >86</text>
<text x="63.40" y="120.50" font-size="20.83" text-anchor="end" font-weight="normal" fill="#262626" >88</text>
<text x="321.00" y="84.50" font-size="22.9" text-anchor="middle" font-weight="bold" fill="#000" >Profile Positions: *=start; 0 = DMQC</text>
<text x="381.00" y="471.00" font-size="20.83" text-anchor="middle" font-weight="normal" fill="#000" >06/19/2025</text>
<clipPath id="clp4"><rect x="570" y="700" width="40" height="200"/></clipPath>
<g clip-path="url(#clp4)"><g transform="translate(574.8,788.5) rotate(-90)" fill="#262626"><text x="-23.5" y="0" font-family="'Liberation Serif','DejaVu Serif',serif" font-style="italic" font-size="22.5">θ</text><text x="-4" y="-11.7" font-size="18.3">o</text><text x="8.7" y="0" font-size="22.9">C</text></g></g>
<rect x="72.5" y="587.5" width="497.0" height="399.0" fill="none" stroke="#262626" stroke-width="1"/>
<g ><g transform="translate(16.8,788.5) rotate(-90)" fill="#262626"><text x="-23.5" y="0" font-family="'Liberation Serif','DejaVu Serif',serif" font-style="italic" font-size="22.5">θ</text><text x="-4" y="-11.7" font-size="18.3">o</text><text x="8.7" y="0" font-size="22.9">C</text></g></g>
<line x1="173.50" y1="986.50" x2="173.50" y2="982.50" stroke="#262626" stroke-width="1" />
<line x1="173.50" y1="587.50" x2="173.50" y2="591.50" stroke="#262626" stroke-width="1" />
<line x1="275.50" y1="986.50" x2="275.50" y2="982.50" stroke="#262626" stroke-width="1" />
<line x1="275.50" y1="587.50" x2="275.50" y2="591.50" stroke="#262626" stroke-width="1" />
<line x1="376.50" y1="986.50" x2="376.50" y2="982.50" stroke="#262626" stroke-width="1" />
<line x1="376.50" y1="587.50" x2="376.50" y2="591.50" stroke="#262626" stroke-width="1" />
<line x1="478.50" y1="986.50" x2="478.50" y2="982.50" stroke="#262626" stroke-width="1" />
<line x1="478.50" y1="587.50" x2="478.50" y2="591.50" stroke="#262626" stroke-width="1" />
<line x1="72.50" y1="935.50" x2="76.50" y2="935.50" stroke="#262626" stroke-width="1" />
<line x1="569.50" y1="935.50" x2="565.50" y2="935.50" stroke="#262626" stroke-width="1" />
<line x1="72.50" y1="874.50" x2="76.50" y2="874.50" stroke="#262626" stroke-width="1" />
<line x1="569.50" y1="874.50" x2="565.50" y2="874.50" stroke="#262626" stroke-width="1" />
<line x1="72.50" y1="813.50" x2="76.50" y2="813.50" stroke="#262626" stroke-width="1" />
<line x1="569.50" y1="813.50" x2="565.50" y2="813.50" stroke="#262626" stroke-width="1" />
<line x1="72.50" y1="752.50" x2="76.50" y2="752.50" stroke="#262626" stroke-width="1" />
<line x1="569.50" y1="752.50" x2="565.50" y2="752.50" stroke="#262626" stroke-width="1" />
<line x1="72.50" y1="691.50" x2="76.50" y2="691.50" stroke="#262626" stroke-width="1" />
<line x1="569.50" y1="691.50" x2="565.50" y2="691.50" stroke="#262626" stroke-width="1" />
<line x1="72.50" y1="630.50" x2="76.50" y2="630.50" stroke="#262626" stroke-width="1" />
<line x1="569.50" y1="630.50" x2="565.50" y2="630.50" stroke="#262626" stroke-width="1" />
<text x="63.10" y="943.70" font-size="20.83" text-anchor="end" font-weight="normal" fill="#262626" >0</text>
<text x="63.10" y="882.70" font-size="20.83" text-anchor="end" font-weight="normal" fill="#262626" >0.5</text>
<text x="63.10" y="821.70" font-size="20.83" text-anchor="end" font-weight="normal" fill="#262626" >1</text>
<text x="63.10" y="760.70" font-size="20.83" text-anchor="end" font-weight="normal" fill="#262626" >1.5</text>
<text x="63.10" y="699.70" font-size="20.83" text-anchor="end" font-weight="normal" fill="#262626" >2</text>
<text x="63.10" y="638.70" font-size="20.83" text-anchor="end" font-weight="normal" fill="#262626" >2.5</text>
<text x="321.00" y="578.00" font-size="22.9" text-anchor="middle" font-weight="bold" fill="#000" style="white-space:pre">Adj Float - Atlas  1902772</text>
<rect x="630.5" y="587.5" width="497.0" height="399.0" fill="none" stroke="#262626" stroke-width="1"/>
<line x1="731.50" y1="986.50" x2="731.50" y2="982.50" stroke="#262626" stroke-width="1" />
<line x1="731.50" y1="587.50" x2="731.50" y2="591.50" stroke="#262626" stroke-width="1" />
<line x1="833.50" y1="986.50" x2="833.50" y2="982.50" stroke="#262626" stroke-width="1" />
<line x1="833.50" y1="587.50" x2="833.50" y2="591.50" stroke="#262626" stroke-width="1" />
<line x1="934.50" y1="986.50" x2="934.50" y2="982.50" stroke="#262626" stroke-width="1" />
<line x1="934.50" y1="587.50" x2="934.50" y2="591.50" stroke="#262626" stroke-width="1" />
<line x1="1036.50" y1="986.50" x2="1036.50" y2="982.50" stroke="#262626" stroke-width="1" />
<line x1="1036.50" y1="587.50" x2="1036.50" y2="591.50" stroke="#262626" stroke-width="1" />
<line x1="630.50" y1="935.50" x2="634.50" y2="935.50" stroke="#262626" stroke-width="1" />
<line x1="1127.50" y1="935.50" x2="1123.50" y2="935.50" stroke="#262626" stroke-width="1" />
<line x1="630.50" y1="874.50" x2="634.50" y2="874.50" stroke="#262626" stroke-width="1" />
<line x1="1127.50" y1="874.50" x2="1123.50" y2="874.50" stroke="#262626" stroke-width="1" />
<line x1="630.50" y1="813.50" x2="634.50" y2="813.50" stroke="#262626" stroke-width="1" />
<line x1="1127.50" y1="813.50" x2="1123.50" y2="813.50" stroke="#262626" stroke-width="1" />
<line x1="630.50" y1="752.50" x2="634.50" y2="752.50" stroke="#262626" stroke-width="1" />
<line x1="1127.50" y1="752.50" x2="1123.50" y2="752.50" stroke="#262626" stroke-width="1" />
<line x1="630.50" y1="691.50" x2="634.50" y2="691.50" stroke="#262626" stroke-width="1" />
<line x1="1127.50" y1="691.50" x2="1123.50" y2="691.50" stroke="#262626" stroke-width="1" />
<line x1="630.50" y1="630.50" x2="634.50" y2="630.50" stroke="#262626" stroke-width="1" />
<line x1="1127.50" y1="630.50" x2="1123.50" y2="630.50" stroke="#262626" stroke-width="1" />
<text x="621.00" y="943.70" font-size="20.83" text-anchor="end" font-weight="normal" fill="#262626" >0</text>
<text x="621.00" y="882.70" font-size="20.83" text-anchor="end" font-weight="normal" fill="#262626" >0.5</text>
<text x="621.00" y="821.70" font-size="20.83" text-anchor="end" font-weight="normal" fill="#262626" >1</text>
<text x="621.00" y="760.70" font-size="20.83" text-anchor="end" font-weight="normal" fill="#262626" >1.5</text>
<text x="621.00" y="699.70" font-size="20.83" text-anchor="end" font-weight="normal" fill="#262626" >2</text>
<text x="621.00" y="638.70" font-size="20.83" text-anchor="end" font-weight="normal" fill="#262626" >2.5</text>
<text x="629.50" y="1015.00" font-size="20.83" text-anchor="middle" font-weight="normal" fill="#262626" >0</text>
<text x="731.93" y="1015.00" font-size="20.83" text-anchor="middle" font-weight="normal" fill="#262626" >10</text>
<text x="833.36" y="1015.00" font-size="20.83" text-anchor="middle" font-weight="normal" fill="#262626" >20</text>
<text x="934.79" y="1015.00" font-size="20.83" text-anchor="middle" font-weight="normal" fill="#262626" >30</text>
<text x="1036.22" y="1015.00" font-size="20.83" text-anchor="middle" font-weight="normal" fill="#262626" >40</text>
<text x="879.00" y="578.00" font-size="22.9" text-anchor="middle" font-weight="bold" fill="#000" style="white-space:pre">Raw Float - CARS  1902772</text>
<text x="879.00" y="1044.20" font-size="22.9" text-anchor="middle" font-weight="normal" fill="#262626" >Profile Number</text>
<g shape-rendering="crispEdges">
<rect x="85.50" y="1008.50" width="7.87" height="15.00" fill="#3e5894" />
<rect x="92.87" y="1008.50" width="7.87" height="15.00" fill="#3f5995" />
<rect x="100.23" y="1008.50" width="7.87" height="15.00" fill="#405a96" />
<rect x="107.60" y="1008.50" width="7.87" height="15.00" fill="#425d9e" />
<rect x="114.97" y="1008.50" width="7.87" height="15.00" fill="#4460a5" />
<rect x="122.34" y="1008.50" width="7.87" height="15.00" fill="#4765b2" />
<rect x="129.70" y="1008.50" width="7.87" height="15.00" fill="#4a6abe" />
<rect x="137.07" y="1008.50" width="7.87" height="15.00" fill="#4a6ec6" />
<rect x="144.44" y="1008.50" width="7.87" height="15.00" fill="#4878c6" />
<rect x="151.80" y="1008.50" width="7.87" height="15.00" fill="#4480bb" />
<rect x="159.17" y="1008.50" width="7.87" height="15.00" fill="#4088b0" />
<rect x="166.54" y="1008.50" width="7.87" height="15.00" fill="#3b90a2" />
<rect x="173.91" y="1008.50" width="7.87" height="15.00" fill="#369894" />
<rect x="181.27" y="1008.50" width="7.87" height="15.00" fill="#35a188" />
<rect x="188.64" y="1008.50" width="7.87" height="15.00" fill="#34aa7c" />
<rect x="196.01" y="1008.50" width="7.87" height="15.00" fill="#3cae7b" />
<rect x="203.38" y="1008.50" width="7.87" height="15.00" fill="#44b27a" />
<rect x="210.74" y="1008.50" width="7.87" height="15.00" fill="#56ba7c" />
<rect x="218.11" y="1008.50" width="7.87" height="15.00" fill="#69c27f" />
<rect x="225.48" y="1008.50" width="7.87" height="15.00" fill="#7ac984" />
<rect x="232.84" y="1008.50" width="7.87" height="15.00" fill="#8cd088" />
<rect x="240.21" y="1008.50" width="7.87" height="15.00" fill="#99d78c" />
<rect x="247.58" y="1008.50" width="7.87" height="15.00" fill="#a7dd90" />
<rect x="254.95" y="1008.50" width="7.87" height="15.00" fill="#b4e494" />
<rect x="262.31" y="1008.50" width="7.87" height="15.00" fill="#bee89a" />
<rect x="269.68" y="1008.50" width="7.87" height="15.00" fill="#c8eba0" />
<rect x="277.05" y="1008.50" width="7.87" height="15.00" fill="#d0ecaa" />
<rect x="284.41" y="1008.50" width="7.87" height="15.00" fill="#d2e8b4" />
<rect x="291.78" y="1008.50" width="7.87" height="15.00" fill="#d4e4be" />
<rect x="299.15" y="1008.50" width="7.87" height="15.00" fill="#d5e0c8" />
<rect x="306.52" y="1008.50" width="7.87" height="15.00" fill="#d6dcd2" />
<rect x="313.88" y="1008.50" width="7.87" height="15.00" fill="#d7d7d7" />
<rect x="321.25" y="1008.50" width="7.87" height="15.00" fill="#d7d7d7" />
<rect x="328.62" y="1008.50" width="7.87" height="15.00" fill="#d8d8d0" />
<rect x="335.98" y="1008.50" width="7.87" height="15.00" fill="#dadac8" />
<rect x="343.35" y="1008.50" width="7.87" height="15.00" fill="#dddcb9" />
<rect x="350.72" y="1008.50" width="7.87" height="15.00" fill="#e0deaa" />
<rect x="358.09" y="1008.50" width="7.87" height="15.00" fill="#e4e091" />
<rect x="365.45" y="1008.50" width="7.87" height="15.00" fill="#e8e278" />
<rect x="372.82" y="1008.50" width="7.87" height="15.00" fill="#eae266" />
<rect x="380.19" y="1008.50" width="7.87" height="15.00" fill="#ebe255" />
<rect x="387.55" y="1008.50" width="7.87" height="15.00" fill="#ece005" />
<rect x="394.92" y="1008.50" width="7.87" height="15.00" fill="#f0d800" />
<rect x="402.29" y="1008.50" width="7.87" height="15.00" fill="#f3d000" />
<rect x="409.66" y="1008.50" width="7.87" height="15.00" fill="#f6c800" />
<rect x="417.02" y="1008.50" width="7.87" height="15.00" fill="#f8bf00" />
<rect x="424.39" y="1008.50" width="7.87" height="15.00" fill="#fab600" />
<rect x="431.76" y="1008.50" width="7.87" height="15.00" fill="#fcae00" />
<rect x="439.12" y="1008.50" width="7.87" height="15.00" fill="#fda500" />
<rect x="446.49" y="1008.50" width="7.87" height="15.00" fill="#fd9c00" />
<rect x="453.86" y="1008.50" width="7.87" height="15.00" fill="#fd9400" />
<rect x="461.23" y="1008.50" width="7.87" height="15.00" fill="#fc8800" />
<rect x="468.59" y="1008.50" width="7.87" height="15.00" fill="#fc7d00" />
<rect x="475.96" y="1008.50" width="7.87" height="15.00" fill="#fb7300" />
<rect x="483.33" y="1008.50" width="7.87" height="15.00" fill="#fa6900" />
<rect x="490.70" y="1008.50" width="7.87" height="15.00" fill="#f55c00" />
<rect x="498.06" y="1008.50" width="7.87" height="15.00" fill="#f05000" />
<rect x="505.43" y="1008.50" width="7.87" height="15.00" fill="#e83c00" />
<rect x="512.80" y="1008.50" width="7.87" height="15.00" fill="#e13005" />
<rect x="520.16" y="1008.50" width="7.87" height="15.00" fill="#d7000a" />
<rect x="527.53" y="1008.50" width="7.87" height="15.00" fill="#cd000f" />
<rect x="534.90" y="1008.50" width="7.87" height="15.00" fill="#c30014" />
<rect x="542.27" y="1008.50" width="7.87" height="15.00" fill="#b9001c" />
<rect x="549.63" y="1008.50" width="7.87" height="15.00" fill="#af0023" />
</g>
<rect x="85.5" y="1008.5" width="471.5" height="15.0" fill="none" stroke="#262626" stroke-width="1"/>
<text x="85.50" y="1050.30" font-size="18.75" text-anchor="middle" font-weight="normal" fill="#262626" >-0.1</text>
<line x1="203.50" y1="1023.50" x2="203.50" y2="1019.50" stroke="#262626" stroke-width="1" />
<text x="203.38" y="1050.30" font-size="18.75" text-anchor="middle" font-weight="normal" fill="#262626" >-0.05</text>
<line x1="321.50" y1="1023.50" x2="321.50" y2="1019.50" stroke="#262626" stroke-width="1" />
<text x="321.25" y="1050.30" font-size="18.75" text-anchor="middle" font-weight="normal" fill="#262626" >0</text>
<line x1="439.50" y1="1023.50" x2="439.50" y2="1019.50" stroke="#262626" stroke-width="1" />
<text x="439.12" y="1050.30" font-size="18.75" text-anchor="middle" font-weight="normal" fill="#262626" >0.05</text>
<text x="557.00" y="1050.30" font-size="18.75" text-anchor="middle" font-weight="normal" fill="#262626" >0.1</text>
<rect x="72.5" y="1081.5" width="497.0" height="398.0" fill="none" stroke="#262626" stroke-width="1"/>
<g ><g transform="translate(16.8,1281.5) rotate(-90)" fill="#262626"><text x="-23.5" y="0" font-family="'Liberation Serif','DejaVu Serif',serif" font-style="italic" font-size="22.5">θ</text><text x="-4" y="-11.7" font-size="18.3">o</text><text x="8.7" y="0" font-size="22.9">C</text></g></g>
<line x1="173.50" y1="1479.50" x2="173.50" y2="1475.50" stroke="#262626" stroke-width="1" />
<line x1="173.50" y1="1081.50" x2="173.50" y2="1085.50" stroke="#262626" stroke-width="1" />
<line x1="275.50" y1="1479.50" x2="275.50" y2="1475.50" stroke="#262626" stroke-width="1" />
<line x1="275.50" y1="1081.50" x2="275.50" y2="1085.50" stroke="#262626" stroke-width="1" />
<line x1="376.50" y1="1479.50" x2="376.50" y2="1475.50" stroke="#262626" stroke-width="1" />
<line x1="376.50" y1="1081.50" x2="376.50" y2="1085.50" stroke="#262626" stroke-width="1" />
<line x1="478.50" y1="1479.50" x2="478.50" y2="1475.50" stroke="#262626" stroke-width="1" />
<line x1="478.50" y1="1081.50" x2="478.50" y2="1085.50" stroke="#262626" stroke-width="1" />
<line x1="72.50" y1="1428.50" x2="76.50" y2="1428.50" stroke="#262626" stroke-width="1" />
<line x1="569.50" y1="1428.50" x2="565.50" y2="1428.50" stroke="#262626" stroke-width="1" />
<line x1="72.50" y1="1367.50" x2="76.50" y2="1367.50" stroke="#262626" stroke-width="1" />
<line x1="569.50" y1="1367.50" x2="565.50" y2="1367.50" stroke="#262626" stroke-width="1" />
<line x1="72.50" y1="1306.50" x2="76.50" y2="1306.50" stroke="#262626" stroke-width="1" />
<line x1="569.50" y1="1306.50" x2="565.50" y2="1306.50" stroke="#262626" stroke-width="1" />
<line x1="72.50" y1="1245.50" x2="76.50" y2="1245.50" stroke="#262626" stroke-width="1" />
<line x1="569.50" y1="1245.50" x2="565.50" y2="1245.50" stroke="#262626" stroke-width="1" />
<line x1="72.50" y1="1184.50" x2="76.50" y2="1184.50" stroke="#262626" stroke-width="1" />
<line x1="569.50" y1="1184.50" x2="565.50" y2="1184.50" stroke="#262626" stroke-width="1" />
<line x1="72.50" y1="1123.50" x2="76.50" y2="1123.50" stroke="#262626" stroke-width="1" />
<line x1="569.50" y1="1123.50" x2="565.50" y2="1123.50" stroke="#262626" stroke-width="1" />
<clipPath id="clp3"><rect x="73" y="1081" width="496" height="399"/></clipPath>
<g clip-path="url(#clp3)" shape-rendering="crispEdges">
<rect x="83.00" y="1093.00" width="10.00" height="252.80" fill="#d6d6d6" />
<rect x="93.00" y="1093.00" width="10.00" height="200.00" fill="#d6d6d6" />
<rect x="103.00" y="1083.30" width="10.00" height="209.70" fill="#d6d6d6" />
<rect x="113.00" y="1083.30" width="10.00" height="209.70" fill="#d6d6d6" />
<rect x="123.00" y="1083.30" width="10.00" height="209.70" fill="#d6d6d6" />
<rect x="133.00" y="1081.00" width="11.00" height="212.00" fill="#d6d6d6" />
<rect x="144.00" y="1081.00" width="10.00" height="212.00" fill="#d6d6d6" />
<rect x="154.00" y="1081.00" width="10.00" height="252.70" fill="#d6d6d6" />
<rect x="164.00" y="1081.00" width="10.00" height="252.70" fill="#d6d6d6" />
<rect x="174.00" y="1081.00" width="10.00" height="252.70" fill="#d6d6d6" />
<rect x="184.00" y="1081.00" width="10.00" height="399.00" fill="#d6d6d6" />
<rect x="194.00" y="1081.00" width="10.00" height="218.70" fill="#d6d6d6" />
<rect x="204.00" y="1081.00" width="11.00" height="218.70" fill="#d6d6d6" />
<rect x="215.00" y="1081.00" width="10.00" height="218.70" fill="#d6d6d6" />
<rect x="225.00" y="1081.00" width="10.00" height="218.70" fill="#d6d6d6" />
<rect x="235.00" y="1081.00" width="10.00" height="218.70" fill="#d6d6d6" />
<rect x="245.00" y="1081.00" width="10.00" height="218.70" fill="#d6d6d6" />
<rect x="255.00" y="1081.00" width="10.00" height="235.80" fill="#d6d6d6" />
<rect x="265.00" y="1081.00" width="10.00" height="238.00" fill="#d6d6d6" />
<rect x="275.00" y="1081.00" width="11.00" height="238.00" fill="#d6d6d6" />
<rect x="286.00" y="1081.00" width="10.00" height="399.00" fill="#d6d6d6" />
<rect x="296.00" y="1081.00" width="10.00" height="230.60" fill="#d6d6d6" />
<rect x="306.00" y="1081.00" width="10.00" height="221.20" fill="#d6d6d6" />
<rect x="316.00" y="1081.00" width="10.00" height="221.20" fill="#d6d6d6" />
<rect x="326.00" y="1081.00" width="10.00" height="221.20" fill="#d6d6d6" />
<rect x="336.00" y="1081.00" width="10.00" height="221.20" fill="#d6d6d6" />
<rect x="346.00" y="1081.00" width="11.00" height="221.20" fill="#d6d6d6" />
<rect x="357.00" y="1081.00" width="10.00" height="221.20" fill="#d6d6d6" />
<rect x="367.00" y="1081.00" width="10.00" height="221.20" fill="#d6d6d6" />
<rect x="377.00" y="1081.00" width="10.00" height="221.20" fill="#d6d6d6" />
<rect x="387.00" y="1081.00" width="10.00" height="399.00" fill="#d6d6d6" />
<rect x="397.00" y="1081.00" width="10.00" height="136.40" fill="#d6d6d6" />
<rect x="407.00" y="1081.00" width="10.00" height="136.40" fill="#d6d6d6" />
<rect x="417.00" y="1081.00" width="11.00" height="136.40" fill="#d6d6d6" />
<rect x="428.00" y="1081.00" width="10.00" height="136.40" fill="#d6d6d6" />
<rect x="438.00" y="1081.00" width="10.00" height="136.40" fill="#d6d6d6" />
<rect x="448.00" y="1081.00" width="10.00" height="136.40" fill="#d6d6d6" />
<rect x="458.00" y="1081.00" width="10.00" height="162.80" fill="#d6d6d6" />
<rect x="468.00" y="1081.00" width="10.00" height="162.80" fill="#d6d6d6" />
<rect x="478.00" y="1081.00" width="10.00" height="162.80" fill="#d6d6d6" />
<rect x="488.00" y="1081.00" width="11.00" height="393.80" fill="#d6d6d6" />
<rect x="499.00" y="1081.00" width="10.00" height="179.60" fill="#d6d6d6" />
<rect x="509.00" y="1081.00" width="10.00" height="179.60" fill="#d6d6d6" />
<rect x="519.00" y="1081.00" width="10.00" height="172.80" fill="#d6d6d6" />
<rect x="529.00" y="1081.00" width="10.00" height="172.80" fill="#d6d6d6" />
<rect x="539.00" y="1081.00" width="10.00" height="172.80" fill="#d6d6d6" />
<rect x="549.00" y="1081.00" width="11.00" height="169.70" fill="#d6d6d6" />
<rect x="133.00" y="1081.00" width="427.00" height="4.73" fill="#cee6b2" />
<rect x="83.00" y="1093.07" width="10.00" height="15.60" fill="#c8e6aa" />
<rect x="83.00" y="1108.67" width="10.00" height="21.33" fill="#d2dec8" />
<rect x="83.00" y="1130.00" width="10.00" height="4.00" fill="#96d28c" />
<rect x="83.00" y="1134.00" width="10.00" height="8.00" fill="#50b978" />
<rect x="83.00" y="1142.00" width="10.00" height="5.33" fill="#96d28c" />
<rect x="83.00" y="1147.33" width="10.00" height="10.67" fill="#dadec8" />
<rect x="83.00" y="1158.00" width="10.00" height="3.33" fill="#3caf78" />
<rect x="83.00" y="1161.33" width="10.00" height="7.33" fill="#bee6a0" />
<rect x="83.00" y="1168.67" width="10.00" height="177.13" fill="#d0dec1" />
<rect x="93.00" y="1093.07" width="10.00" height="24.93" fill="#d6e0c8" />
<rect x="93.00" y="1222.00" width="10.00" height="36.00" fill="#d0e4b7" />
<rect x="103.00" y="1083.33" width="10.00" height="9.33" fill="#e2e4aa" />
<rect x="103.00" y="1092.67" width="10.00" height="65.33" fill="#dadcc4" />
<rect x="103.00" y="1158.00" width="10.00" height="13.33" fill="#e0e2af" />
<rect x="113.00" y="1098.00" width="10.00" height="33.33" fill="#cbe8a7" />
<rect x="113.00" y="1158.00" width="10.00" height="13.33" fill="#e4e2a0" />
<rect x="123.00" y="1095.33" width="10.00" height="36.00" fill="#cde8ac" />
<rect x="133.00" y="1081.33" width="11.00" height="11.33" fill="#e2e4aa" />
<rect x="133.00" y="1092.67" width="11.00" height="38.67" fill="#d8dec6" />
<rect x="144.00" y="1134.00" width="20.00" height="13.33" fill="#d0e2bc" />
<rect x="164.00" y="1091.33" width="10.00" height="61.33" fill="#cde8aa" />
<rect x="164.00" y="1152.67" width="10.00" height="26.67" fill="#e4e2a0" />
<rect x="174.00" y="1083.33" width="10.00" height="9.33" fill="#cde8aa" />
<rect x="174.00" y="1092.67" width="10.00" height="32.00" fill="#96d48c" />
<rect x="174.00" y="1094.00" width="10.00" height="5.33" fill="#6ec382" />
<rect x="174.00" y="1108.00" width="10.00" height="2.00" fill="#64c080" />
<rect x="174.00" y="1124.67" width="10.00" height="25.33" fill="#c8e6a5" />
<rect x="184.00" y="1086.00" width="10.00" height="12.00" fill="#c8e8a5" />
<rect x="184.00" y="1098.00" width="10.00" height="17.33" fill="#8cd088" />
<rect x="184.00" y="1115.33" width="10.00" height="13.33" fill="#70c482" />
<rect x="184.00" y="1128.67" width="10.00" height="5.33" fill="#bee4a0" />
<rect x="194.00" y="1084.67" width="10.00" height="8.00" fill="#cde8aa" />
<rect x="204.00" y="1084.67" width="11.00" height="8.00" fill="#d4e4b9" />
<rect x="215.00" y="1098.00" width="10.00" height="13.33" fill="#e4e296" />
<rect x="215.00" y="1111.33" width="10.00" height="10.67" fill="#ebdc3c" />
<rect x="215.00" y="1122.00" width="10.00" height="12.00" fill="#e2e2a5" />
<rect x="225.00" y="1098.00" width="10.00" height="6.67" fill="#e4e296" />
<rect x="225.00" y="1104.67" width="10.00" height="17.33" fill="#eede41" />
<rect x="225.00" y="1122.00" width="10.00" height="25.33" fill="#e2e2aa" />
<rect x="235.00" y="1081.33" width="10.00" height="11.33" fill="#c8e8a5" />
<rect x="235.00" y="1092.67" width="10.00" height="16.00" fill="#d4e4be" />
<rect x="245.00" y="1081.33" width="10.00" height="11.33" fill="#c8e8a5" />
<rect x="245.00" y="1092.67" width="10.00" height="7.33" fill="#50b97d" />
<rect x="245.00" y="1100.00" width="10.00" height="4.67" fill="#c3e6a0" />
<rect x="255.00" y="1081.33" width="10.00" height="27.33" fill="#c8e8a5" />
<rect x="255.00" y="1150.00" width="10.00" height="82.67" fill="#e4e49b" />
<rect x="255.00" y="1232.67" width="10.00" height="42.67" fill="#dee0b9" />
<rect x="265.00" y="1081.33" width="10.00" height="36.67" fill="#d4e2c0" />
<rect x="275.00" y="1099.33" width="11.00" height="17.33" fill="#c3e6a0" />
<rect x="275.00" y="1116.67" width="11.00" height="2.67" fill="#64c080" />
<rect x="275.00" y="1119.33" width="11.00" height="2.00" fill="#96d48c" />
<rect x="275.00" y="1121.33" width="11.00" height="4.00" fill="#3caf7a" />
<rect x="275.00" y="1125.33" width="11.00" height="4.67" fill="#96d48c" />
<rect x="275.00" y="1198.00" width="11.00" height="29.33" fill="#d9dbcf" />
<rect x="286.00" y="1098.67" width="10.00" height="18.00" fill="#82cd87" />
<rect x="286.00" y="1116.67" width="10.00" height="2.67" fill="#bee49e" />
<rect x="306.00" y="1112.00" width="10.00" height="4.00" fill="#96d48c" />
<rect x="316.00" y="1082.00" width="10.00" height="9.33" fill="#82cd87" />
<rect x="316.00" y="1158.00" width="10.00" height="80.00" fill="#e4e49e" />
<rect x="316.00" y="1238.00" width="10.00" height="25.33" fill="#dee0b9" />
<rect x="326.00" y="1081.33" width="10.00" height="11.33" fill="#c8e8a5" />
<rect x="326.00" y="1092.67" width="10.00" height="5.33" fill="#6ec482" />
<rect x="326.00" y="1098.00" width="10.00" height="6.67" fill="#a0d88e" />
<rect x="326.00" y="1104.67" width="10.00" height="13.33" fill="#c8e8a5" />
<rect x="336.00" y="1081.33" width="10.00" height="36.67" fill="#cde8aa" />
<rect x="336.00" y="1198.00" width="10.00" height="12.00" fill="#dbdccb" />
<rect x="346.00" y="1108.67" width="21.00" height="16.00" fill="#dedebe" />
<rect x="357.00" y="1203.33" width="30.00" height="12.00" fill="#d9dad0" />
<rect x="387.00" y="1104.67" width="30.00" height="40.00" fill="#d4dec8" />
<rect x="387.00" y="1128.67" width="10.00" height="8.00" fill="#cde6af" />
<rect x="448.00" y="1086.00" width="20.00" height="8.00" fill="#c8e8a5" />
<rect x="468.00" y="1081.33" width="10.00" height="2.00" fill="#aae196" />
<rect x="417.00" y="1152.67" width="21.00" height="64.00" fill="#cde8aa" />
<rect x="438.00" y="1152.67" width="10.00" height="45.33" fill="#d2e6b6" />
<rect x="458.00" y="1156.67" width="30.00" height="30.67" fill="#cde8aa" />
<rect x="478.00" y="1118.00" width="10.00" height="34.67" fill="#cde8ac" />
<rect x="438.00" y="1198.00" width="122.00" height="19.40" fill="#d4e0c8" />
<rect x="488.00" y="1083.33" width="11.00" height="25.33" fill="#e8e482" />
<rect x="488.00" y="1108.67" width="11.00" height="5.33" fill="#ece05a" />
<rect x="488.00" y="1114.00" width="11.00" height="4.00" fill="#e6e496" />
<rect x="499.00" y="1083.33" width="20.00" height="28.00" fill="#e1e2aa" />
<rect x="519.00" y="1083.33" width="10.00" height="28.00" fill="#e6e48c" />
<rect x="529.00" y="1083.33" width="20.00" height="34.67" fill="#e1e2b4" />
<rect x="539.00" y="1156.67" width="21.00" height="41.33" fill="#c8e8a5" />
<rect x="549.00" y="1116.93" width="11.00" height="6.40" fill="#cde8aa" />
<rect x="549.00" y="1123.33" width="11.00" height="20.67" fill="#b4e296" />
<rect x="539.00" y="1108.00" width="10.00" height="11.33" fill="#e8e496" />
<rect x="519.00" y="1211.33" width="20.00" height="20.00" fill="#cde6b4" />
<rect x="204.00" y="1218.00" width="21.00" height="37.33" fill="#d4ddcb" />
</g>
<g clip-path="url(#clp3)" shape-rendering="crispEdges">
<polyline points="183.3,1086.0 208.7,1086.7 208.7,1090.0 203.3,1092.0 192.7,1092.7 187.3,1098.0 190.0,1104.7 192.0,1111.3 192.0,1128.7 184.7,1132.0 190.7,1134.7 186.0,1136.7 176.7,1139.3 178.0,1147.3 170.0,1148.7 171.3,1139.3 172.0,1128.7 167.3,1123.3 169.3,1116.7 158.0,1114.7 172.7,1105.3 163.3,1096.7 171.3,1094.0 183.3,1088.7 183.3,1086.0" fill="none" stroke="#000" stroke-width="1" stroke-linejoin="round" />
<polyline points="122.7,1099.3 125.3,1104.7 127.3,1118.0 126.7,1128.7 123.3,1133.3 120.0,1130.0 119.3,1118.0 120.4,1104.7 122.7,1099.3" fill="none" stroke="#000" stroke-width="1" stroke-linejoin="round" />
<polyline points="98.7,1098.0 101.3,1094.7 108.7,1094.0 114.0,1097.3 112.7,1101.3 104.7,1102.4 100.0,1100.9 98.7,1098.0" fill="none" stroke="#000" stroke-width="1" stroke-linejoin="round" />
<polyline points="100.7,1119.3 112.7,1120.0 112.0,1123.3 104.7,1122.0 100.7,1119.3" fill="none" stroke="#000" stroke-width="1" stroke-linejoin="round" />
<polyline points="130.7,1084.7 131.3,1094.0 133.3,1103.3 140.7,1100.7 134.0,1098.0 142.7,1087.3 139.3,1084.7" fill="none" stroke="#000" stroke-width="1" stroke-linejoin="round" />
<polyline points="132.0,1111.3 136.7,1112.7 133.3,1116.7 132.0,1111.3" fill="none" stroke="#000" stroke-width="1" stroke-linejoin="round" />
<polyline points="86.7,1095.3 85.3,1103.3 83.3,1108.7" fill="none" stroke="#000" stroke-width="1" stroke-linejoin="round" />
<polyline points="82.7,1130.7 90.0,1132.7 91.3,1139.3 88.7,1146.0 83.3,1150.0" fill="none" stroke="#000" stroke-width="1" stroke-linejoin="round" />
<polyline points="82.7,1158.0 91.3,1161.3" fill="none" stroke="#000" stroke-width="1.6" stroke-linejoin="round" />
<polyline points="93.3,1161.3 103.3,1159.3 114.0,1161.3 117.3,1164.0" fill="none" stroke="#000" stroke-width="1" stroke-linejoin="round" />
<polyline points="96.7,1162.0 110.0,1164.7 116.7,1166.0" fill="none" stroke="#000" stroke-width="1" stroke-linejoin="round" />
<polyline points="82.7,1163.3 87.3,1164.7 83.3,1168.7" fill="none" stroke="#000" stroke-width="1" stroke-linejoin="round" />
<polyline points="108.0,1170.0 112.7,1167.3 117.3,1171.3 116.0,1176.7 112.0,1179.3 107.3,1176.7 108.0,1170.0" fill="none" stroke="#000" stroke-width="1" stroke-linejoin="round" />
<polyline points="91.3,1165.3 93.7,1166.0 93.7,1172.7 92.0,1173.3 91.3,1165.3" fill="none" stroke="#000" stroke-width="1" stroke-linejoin="round" />
<polyline points="161.3,1154.0 164.7,1153.3 167.3,1160.7 168.0,1171.3 165.3,1182.0 163.3,1185.3 162.0,1179.3 160.7,1168.7 160.7,1158.0 161.3,1154.0" fill="none" stroke="#000" stroke-width="1" stroke-linejoin="round" />
<polyline points="139.3,1131.3 150.0,1132.7 146.0,1135.3 144.7,1140.7 148.7,1142.0 143.3,1142.7 142.7,1136.7 139.3,1131.3" fill="none" stroke="#000" stroke-width="1" stroke-linejoin="round" />
<polyline points="141.3,1132.7 148.0,1132.7" fill="none" stroke="#000" stroke-width="2" stroke-linejoin="round" />
<polyline points="153.3,1150.0 153.3,1158.0" fill="none" stroke="#000" stroke-width="2" stroke-linejoin="round" />
<polyline points="159.3,1153.3 178.0,1153.7" fill="none" stroke="#000" stroke-width="1.5" stroke-linejoin="round" />
<polyline points="211.3,1102.0 216.7,1100.7 224.7,1098.7 220.7,1102.0 230.0,1108.7" fill="none" stroke="#000" stroke-width="1" stroke-linejoin="round" />
<polyline points="230.0,1144.7 222.0,1144.0 211.3,1134.0 207.3,1118.0 215.3,1112.7 211.3,1104.7 211.3,1102.0" fill="none" stroke="#000" stroke-width="1" stroke-linejoin="round" />
<polyline points="230.0,1118.0 220.7,1122.0 224.7,1127.3 216.7,1130.7 220.7,1132.7 230.0,1132.7" fill="none" stroke="#000" stroke-width="1" stroke-linejoin="round" />
<polyline points="202.0,1099.3 204.0,1097.3 206.0,1099.3 204.0,1101.3 202.0,1099.3" fill="none" stroke="#000" stroke-width="1" stroke-linejoin="round" />
<polyline points="210.0,1186.0 213.3,1184.0 216.7,1186.0 214.0,1189.7 211.3,1188.7 210.0,1186.0" fill="none" stroke="#000" stroke-width="1" stroke-linejoin="round" />
<polyline points="102.0,1089.3 110.0,1087.3 110.0,1090.7" fill="none" stroke="#000" stroke-width="1" stroke-linejoin="round" />
<polyline points="112.7,1183.3 113.3,1186.0" fill="none" stroke="#000" stroke-width="2" stroke-linejoin="round" />
<polyline points="93.3,1095.3 91.3,1111.3 94.0,1123.3 97.3,1131.3 96.0,1142.0 92.0,1147.3 84.7,1150.7" fill="none" stroke="#000" stroke-width="1" stroke-linejoin="round" stroke-dasharray="1.2 1.6"/>
<polyline points="92.7,1146.0 100.7,1144.7 105.3,1147.3 104.7,1154.0 95.3,1153.3" fill="none" stroke="#000" stroke-width="1" stroke-linejoin="round" stroke-dasharray="1.2 1.6"/>
<polyline points="116.0,1091.3 120.7,1087.3 124.0,1086.0 128.7,1098.0 130.7,1111.3 131.3,1130.0" fill="none" stroke="#000" stroke-width="1" stroke-linejoin="round" stroke-dasharray="1.2 1.6"/>
<polyline points="117.3,1092.7 115.3,1104.7 114.7,1122.0 116.0,1134.0 119.3,1142.0 118.0,1152.7 122.7,1166.0 123.3,1182.0 124.7,1198.0" fill="none" stroke="#000" stroke-width="1" stroke-linejoin="round" stroke-dasharray="1.2 1.6"/>
<polyline points="148.7,1095.3 160.7,1091.3 162.7,1086.0" fill="none" stroke="#000" stroke-width="1" stroke-linejoin="round" stroke-dasharray="1.2 1.6"/>
<polyline points="148.7,1095.3 155.3,1099.3 166.0,1103.3 171.3,1106.7" fill="none" stroke="#000" stroke-width="1" stroke-linejoin="round" stroke-dasharray="1.2 1.6"/>
<polyline points="145.3,1114.7 156.7,1110.0 166.0,1106.7" fill="none" stroke="#000" stroke-width="1" stroke-linejoin="round" stroke-dasharray="1.2 1.6"/>
<polyline points="138.0,1129.3 150.0,1128.0 158.0,1124.7 162.0,1119.3 158.0,1115.3" fill="none" stroke="#000" stroke-width="1" stroke-linejoin="round" stroke-dasharray="1.2 1.6"/>
<polyline points="155.3,1130.0 166.0,1131.3 165.3,1140.7 163.3,1144.7" fill="none" stroke="#000" stroke-width="1" stroke-linejoin="round" stroke-dasharray="1.2 1.6"/>
<polyline points="128.7,1140.7 134.0,1140.0 138.0,1144.7 134.0,1152.7 130.0,1151.3 126.0,1144.7 128.7,1140.7" fill="none" stroke="#000" stroke-width="1" stroke-linejoin="round" stroke-dasharray="1.2 1.6"/>
<polyline points="124.7,1164.7 139.3,1162.0 144.7,1164.7 147.3,1171.3 144.7,1175.3 139.3,1172.7 132.7,1167.3 124.7,1170.0" fill="none" stroke="#000" stroke-width="1" stroke-linejoin="round" stroke-dasharray="1.2 1.6"/>
<polyline points="154.7,1158.0 155.3,1171.3 156.0,1184.7 156.7,1198.0" fill="none" stroke="#000" stroke-width="1" stroke-linejoin="round" stroke-dasharray="1.2 1.6"/>
<polyline points="174.0,1155.3 174.0,1171.3 175.3,1179.3 182.0,1184.7 183.3,1192.7 180.7,1198.0" fill="none" stroke="#000" stroke-width="1" stroke-linejoin="round" stroke-dasharray="1.2 1.6"/>
<polyline points="186.0,1163.3 190.0,1159.3 198.0,1157.3 208.7,1158.0 220.7,1159.3 226.0,1162.0 230.0,1166.0" fill="none" stroke="#000" stroke-width="1" stroke-linejoin="round" stroke-dasharray="1.2 1.6"/>
<polyline points="186.0,1163.3 184.7,1174.0 187.3,1183.3 186.0,1192.7" fill="none" stroke="#000" stroke-width="1" stroke-linejoin="round" stroke-dasharray="1.2 1.6"/>
<polyline points="201.3,1159.3 202.0,1171.3 199.3,1182.0 198.7,1195.3" fill="none" stroke="#000" stroke-width="1" stroke-linejoin="round" stroke-dasharray="1.2 1.6"/>
<polyline points="194.7,1103.3 198.0,1108.7 203.3,1116.7 204.0,1131.3 203.3,1147.3 202.7,1158.0" fill="none" stroke="#000" stroke-width="1" stroke-linejoin="round" stroke-dasharray="1.2 1.6"/>
<polyline points="194.0,1095.3 194.7,1103.3" fill="none" stroke="#000" stroke-width="1" stroke-linejoin="round" stroke-dasharray="1.2 1.6"/>
<polyline points="214.7,1083.3 218.0,1091.3 230.0,1090.7" fill="none" stroke="#000" stroke-width="1" stroke-linejoin="round" stroke-dasharray="1.2 1.6"/>
<polyline points="210.0,1098.0 220.7,1094.0" fill="none" stroke="#000" stroke-width="1" stroke-linejoin="round" stroke-dasharray="1.2 1.6"/>
<polyline points="211.3,1174.0 214.0,1172.7 216.7,1176.0 213.3,1178.7 211.3,1174.0" fill="none" stroke="#000" stroke-width="1" stroke-linejoin="round" stroke-dasharray="1.2 1.6"/>
<polyline points="98.0,1184.7 103.3,1183.3 110.0,1185.3" fill="none" stroke="#000" stroke-width="1" stroke-linejoin="round" stroke-dasharray="1.2 1.6"/>
<polyline points="102.0,1190.7 103.3,1191.3" fill="none" stroke="#000" stroke-width="1" stroke-linejoin="round" stroke-dasharray="1.2 1.6"/>
<polyline points="230.0,1084.7 250.0,1090.7 250.7,1092.7 237.3,1094.7 236.0,1099.3 240.7,1103.3 247.3,1104.7 252.7,1112.7 258.7,1114.7 258.7,1122.0 254.7,1126.0 251.3,1120.7 251.3,1115.3 256.7,1110.0 263.3,1104.7 258.7,1102.7 262.7,1098.0 263.3,1089.3 270.7,1083.3" fill="none" stroke="#000" stroke-width="1" stroke-linejoin="round" />
<polyline points="274.0,1098.7 294.0,1098.7 294.7,1108.7 292.7,1116.0 285.3,1119.3 284.0,1127.3 280.7,1130.7 275.3,1131.3 267.3,1129.3 266.0,1122.0 268.7,1118.0 270.7,1108.7 266.0,1106.0 268.7,1101.3 274.0,1098.7" fill="none" stroke="#000" stroke-width="1" stroke-linejoin="round" />
<polyline points="263.3,1104.7 266.0,1106.0" fill="none" stroke="#000" stroke-width="1" stroke-linejoin="round" />
<polyline points="332.7,1084.7 345.3,1083.3 336.7,1088.0 342.0,1090.0 338.7,1096.7 339.3,1107.3 337.3,1118.0 326.7,1118.0 324.7,1116.0 328.7,1112.7 323.3,1108.7 320.7,1104.0 320.0,1095.3 322.0,1093.3" fill="none" stroke="#000" stroke-width="1" stroke-linejoin="round" />
<polyline points="302.0,1093.3 326.0,1093.3" fill="none" stroke="#000" stroke-width="1.8" stroke-linejoin="round" />
<polyline points="346.7,1113.3 356.0,1109.3 358.7,1112.7 359.3,1119.3 367.3,1120.7 368.7,1124.7 361.3,1128.0 356.0,1127.3 351.3,1120.7 352.7,1115.3 346.7,1113.3" fill="none" stroke="#000" stroke-width="1" stroke-linejoin="round" />
<polyline points="356.0,1134.0 371.3,1134.0 374.7,1138.7 366.0,1141.3 358.0,1138.7 356.0,1134.0" fill="none" stroke="#000" stroke-width="1" stroke-linejoin="round" />
<polyline points="261.3,1198.0 262.0,1186.0 258.7,1180.7 256.7,1158.0 254.7,1150.0 253.3,1158.0 251.3,1176.7 252.0,1183.3 246.7,1198.0" fill="none" stroke="#000" stroke-width="1" stroke-linejoin="round" />
<polyline points="322.0,1198.0 323.3,1188.7 320.7,1180.7 323.3,1173.3 320.7,1170.0 318.7,1163.3 316.0,1158.0 311.3,1163.3 309.3,1171.3 313.3,1180.7 310.7,1187.3 312.0,1198.0" fill="none" stroke="#000" stroke-width="1" stroke-linejoin="round" />
<polyline points="230.0,1131.3 236.7,1129.3 235.3,1144.7 230.0,1145.3" fill="none" stroke="#000" stroke-width="1" stroke-linejoin="round" />
<polyline points="233.3,1116.7 236.0,1116.7 236.0,1122.0 230.0,1122.7" fill="none" stroke="#000" stroke-width="1" stroke-linejoin="round" />
<polyline points="234.0,1114.7 235.3,1120.7" fill="none" stroke="#000" stroke-width="3" stroke-linejoin="round" />
<polyline points="301.3,1083.3 313.3,1083.3 308.7,1090.0 304.7,1090.0 301.3,1083.3" fill="none" stroke="#000" stroke-width="1" stroke-linejoin="round" />
<polyline points="305.3,1080.0 306.0,1091.3" fill="none" stroke="#000" stroke-width="1" stroke-linejoin="round" />
<polyline points="308.7,1082.0 307.3,1090.0" fill="none" stroke="#000" stroke-width="1" stroke-linejoin="round" />
<polyline points="298.0,1100.7 306.0,1098.0 311.3,1100.0 304.7,1102.7 298.0,1100.7" fill="none" stroke="#000" stroke-width="1" stroke-linejoin="round" />
<polyline points="297.3,1115.3 304.7,1112.0 314.0,1115.3 305.3,1118.0 297.3,1115.3" fill="none" stroke="#000" stroke-width="1" stroke-linejoin="round" />
<polyline points="302.0,1117.1 308.7,1117.1" fill="none" stroke="#000" stroke-width="2" stroke-linejoin="round" />
<polyline points="301.3,1123.3 306.7,1120.7 310.0,1122.0 304.7,1124.0 301.3,1123.3" fill="none" stroke="#000" stroke-width="1" stroke-linejoin="round" />
<polyline points="283.3,1131.3 288.0,1131.3 286.7,1137.3 283.3,1136.7 283.3,1131.3" fill="none" stroke="#000" stroke-width="1" stroke-linejoin="round" />
<polyline points="247.3,1142.0 254.0,1136.7 263.3,1136.7 265.3,1147.3 274.0,1155.3 285.3,1159.3 288.7,1154.0 296.7,1149.3 298.0,1136.7 304.7,1132.7 315.3,1131.3 322.0,1135.3 330.0,1135.3 338.0,1127.3 342.0,1116.7 343.3,1102.0 344.7,1088.7" fill="none" stroke="#000" stroke-width="1" stroke-linejoin="round" stroke-dasharray="1.2 1.6"/>
<polyline points="247.3,1142.0 243.3,1150.0 242.7,1166.0 246.0,1166.0 245.3,1147.3" fill="none" stroke="#000" stroke-width="1" stroke-linejoin="round" stroke-dasharray="1.2 1.6"/>
<polyline points="316.7,1099.3 314.0,1111.3 315.3,1123.3 316.0,1140.7 316.0,1151.3" fill="none" stroke="#000" stroke-width="1" stroke-linejoin="round" stroke-dasharray="1.2 1.6"/>
<polyline points="354.0,1086.0 356.0,1102.0 363.3,1107.3 370.0,1118.0 374.7,1126.0 381.3,1129.3 383.3,1136.7 388.7,1136.7 384.7,1144.7" fill="none" stroke="#000" stroke-width="1" stroke-linejoin="round" stroke-dasharray="1.2 1.6"/>
<polyline points="347.3,1086.0 370.0,1085.3" fill="none" stroke="#000" stroke-width="1" stroke-linejoin="round" stroke-dasharray="1.2 1.6"/>
<polyline points="379.3,1083.3 387.3,1084.7 390.0,1091.3 387.3,1098.0" fill="none" stroke="#000" stroke-width="1" stroke-linejoin="round" stroke-dasharray="1.2 1.6"/>
<polyline points="230.0,1168.7 238.0,1175.3 243.3,1180.7" fill="none" stroke="#000" stroke-width="1" stroke-linejoin="round" stroke-dasharray="1.2 1.6"/>
<polyline points="235.3,1183.3 234.0,1191.3 235.3,1198.0" fill="none" stroke="#000" stroke-width="1" stroke-linejoin="round" stroke-dasharray="1.2 1.6"/>
<polyline points="286.0,1083.3 288.7,1095.3 299.3,1091.3" fill="none" stroke="#000" stroke-width="1" stroke-linejoin="round" stroke-dasharray="1.2 1.6"/>
<polyline points="299.3,1130.0 310.0,1127.3 315.3,1123.3" fill="none" stroke="#000" stroke-width="1" stroke-linejoin="round" stroke-dasharray="1.2 1.6"/>
<polyline points="296.7,1104.7 312.7,1110.0" fill="none" stroke="#000" stroke-width="1" stroke-linejoin="round" stroke-dasharray="1.2 1.6"/>
<polyline points="243.3,1108.7 247.3,1111.3 244.7,1116.7" fill="none" stroke="#000" stroke-width="1" stroke-linejoin="round" stroke-dasharray="1.2 1.6"/>
<polyline points="264.7,1108.7 266.0,1122.0" fill="none" stroke="#000" stroke-width="1" stroke-linejoin="round" stroke-dasharray="1.2 1.6"/>
<polyline points="242.0,1128.7 242.7,1140.7" fill="none" stroke="#000" stroke-width="1" stroke-linejoin="round" stroke-dasharray="1.2 1.6"/>
<polyline points="442.7,1088.0 454.0,1086.0 459.3,1086.7 455.3,1090.0 459.3,1092.7 458.7,1096.0 446.7,1095.3 442.7,1088.0" fill="none" stroke="#000" stroke-width="1" stroke-linejoin="round" />
<polyline points="448.7,1086.7 446.0,1084.0 454.0,1085.3" fill="none" stroke="#000" stroke-width="1" stroke-linejoin="round" />
<polyline points="454.0,1086.0 470.0,1085.3 483.3,1083.3 511.3,1084.0 512.7,1085.3 507.3,1086.0 485.3,1085.3" fill="none" stroke="#000" stroke-width="1" stroke-linejoin="round" />
<polyline points="484.7,1084.0 484.7,1087.3 486.7,1094.0 488.0,1104.7 484.7,1112.7" fill="none" stroke="#000" stroke-width="1" stroke-linejoin="round" />
<polyline points="489.3,1113.3 493.3,1112.7 492.7,1109.3 490.7,1102.7 498.7,1095.3 502.0,1099.3 511.3,1106.7 506.7,1112.0 514.7,1117.3 523.3,1118.0 529.3,1116.0 530.7,1118.0 538.0,1122.0 545.3,1116.0 536.7,1108.7 529.3,1104.7 528.7,1102.0 540.0,1100.7 540.7,1096.7 533.3,1092.7 527.3,1084.0" fill="none" stroke="#000" stroke-width="1" stroke-linejoin="round" />
<polyline points="486.0,1116.7 491.3,1116.0 493.3,1118.0 492.0,1122.7 488.7,1124.7 486.0,1120.7 486.0,1116.7" fill="none" stroke="#000" stroke-width="1" stroke-linejoin="round" />
<polyline points="478.7,1124.7 481.3,1130.0 480.7,1136.7 478.0,1138.7 474.7,1134.0 475.3,1129.3 478.7,1124.7" fill="none" stroke="#000" stroke-width="1" stroke-linejoin="round" />
<polyline points="474.0,1143.3 480.7,1142.7 483.3,1152.7 479.3,1157.3 474.0,1156.7 470.0,1153.3 474.0,1143.3" fill="none" stroke="#000" stroke-width="1" stroke-linejoin="round" />
<polyline points="462.0,1163.3 467.3,1158.7 474.0,1161.3 474.0,1164.7 468.7,1169.3 486.7,1178.0 471.3,1184.0 470.0,1188.7 467.3,1190.0 464.7,1184.7 451.3,1178.7 458.0,1172.7 467.3,1171.3 462.0,1163.3" fill="none" stroke="#000" stroke-width="1" stroke-linejoin="round" />
<polyline points="416.0,1198.0 413.3,1195.3 416.7,1184.7 415.3,1180.7 420.0,1175.3 425.3,1173.3 418.0,1170.7 423.3,1160.7 428.0,1152.0 435.3,1151.3 442.7,1153.3 445.3,1158.7 443.3,1164.7 444.7,1176.7 431.3,1184.0 433.3,1187.3 431.3,1192.7 434.7,1198.0" fill="none" stroke="#000" stroke-width="1" stroke-linejoin="round" />
<polyline points="427.3,1136.7 432.7,1140.7 427.3,1143.3 427.3,1136.7" fill="none" stroke="#000" stroke-width="1" stroke-linejoin="round" />
<polyline points="550.0,1157.3 539.3,1158.0 536.7,1171.3 533.3,1176.7 535.3,1183.3 543.3,1180.7 545.3,1176.7 542.0,1171.3 542.0,1164.7 550.0,1162.0" fill="none" stroke="#000" stroke-width="1" stroke-linejoin="round" />
<polyline points="396.7,1106.7 396.7,1110.7" fill="none" stroke="#000" stroke-width="2.2" stroke-linejoin="round" />
<polyline points="416.0,1112.7 420.7,1112.7" fill="none" stroke="#000" stroke-width="2.2" stroke-linejoin="round" />
<polyline points="391.3,1136.7 392.7,1128.7 398.0,1124.0 407.3,1127.3 410.7,1124.7 410.0,1115.3 406.0,1107.3 399.3,1094.0 395.3,1091.3" fill="none" stroke="#000" stroke-width="1" stroke-linejoin="round" stroke-dasharray="1.2 1.6"/>
<polyline points="391.3,1085.3 397.3,1085.3" fill="none" stroke="#000" stroke-width="1" stroke-linejoin="round" stroke-dasharray="1.2 1.6"/>
<polyline points="427.3,1083.3 430.0,1086.7 438.0,1090.0 438.7,1092.7 434.0,1095.3 446.0,1098.0 448.7,1102.0 444.7,1106.0 447.3,1112.7 454.0,1112.0 459.3,1114.7" fill="none" stroke="#000" stroke-width="1" stroke-linejoin="round" stroke-dasharray="1.2 1.6"/>
<polyline points="454.0,1112.0 456.7,1107.3 462.7,1103.3 464.0,1096.7 466.0,1090.7 472.7,1090.0 480.7,1090.0" fill="none" stroke="#000" stroke-width="1" stroke-linejoin="round" stroke-dasharray="1.2 1.6"/>
<polyline points="390.0,1196.7 396.7,1192.0 403.3,1190.0 402.7,1179.3 405.3,1171.3 410.7,1166.0 411.3,1159.3 418.0,1150.7 421.3,1143.3 421.3,1131.3 424.7,1124.0 428.7,1122.7 436.7,1132.7 446.0,1132.0 452.7,1131.3 458.0,1132.7 458.7,1139.3" fill="none" stroke="#000" stroke-width="1" stroke-linejoin="round" stroke-dasharray="1.2 1.6"/>
<polyline points="452.7,1131.3 463.3,1129.3 468.7,1124.7 474.0,1115.3 475.3,1112.7" fill="none" stroke="#000" stroke-width="1" stroke-linejoin="round" stroke-dasharray="1.2 1.6"/>
<polyline points="475.3,1103.3 478.0,1099.3 480.7,1104.7 480.7,1110.0 478.0,1112.7 475.3,1108.7 475.3,1103.3" fill="none" stroke="#000" stroke-width="1" stroke-linejoin="round" stroke-dasharray="1.2 1.6"/>
<polyline points="482.0,1114.0 483.3,1124.7 486.0,1138.0 488.7,1155.3 496.7,1155.3 511.3,1152.0 520.7,1147.3 523.3,1143.3 516.7,1139.3 514.0,1132.7 510.0,1130.7 499.3,1132.7" fill="none" stroke="#000" stroke-width="1" stroke-linejoin="round" stroke-dasharray="1.2 1.6"/>
<polyline points="518.0,1129.3 528.7,1131.3 536.7,1140.7 540.7,1142.0 541.3,1128.7 544.7,1118.0" fill="none" stroke="#000" stroke-width="1" stroke-linejoin="round" stroke-dasharray="1.2 1.6"/>
<polyline points="539.3,1083.3 543.3,1090.0 548.7,1098.0" fill="none" stroke="#000" stroke-width="1" stroke-linejoin="round" stroke-dasharray="1.2 1.6"/>
<polyline points="470.0,1089.3 478.0,1095.3" fill="none" stroke="#000" stroke-width="1" stroke-linejoin="round" stroke-dasharray="1.2 1.6"/>
<polyline points="82.7,1242.0 90.0,1237.3 93.3,1237.3 96.7,1243.3 96.0,1250.0 91.3,1254.7 82.7,1258.7" fill="none" stroke="#000" stroke-width="1" stroke-linejoin="round" />
<polyline points="82.7,1227.3 85.3,1228.7 85.3,1232.0 82.7,1232.7" fill="none" stroke="#000" stroke-width="1" stroke-linejoin="round" />
<polyline points="100.7,1222.7 102.0,1219.3 104.0,1222.7 100.7,1222.7" fill="none" stroke="#000" stroke-width="1" stroke-linejoin="round" />
<polyline points="212.7,1247.3 214.7,1247.3 214.0,1251.3 212.7,1247.3" fill="none" stroke="#000" stroke-width="1" stroke-linejoin="round" />
<polyline points="82.7,1200.7 90.0,1198.7 96.7,1201.3 103.3,1208.7 112.7,1219.3 114.0,1223.3 112.7,1218.0 119.3,1208.7 122.7,1204.0 126.0,1208.7 127.3,1215.3 131.3,1223.3 138.0,1229.3 142.0,1236.7 132.7,1239.3" fill="none" stroke="#000" stroke-width="1" stroke-linejoin="round" stroke-dasharray="1.2 1.6"/>
<polyline points="142.0,1236.7 150.0,1247.3 156.7,1253.3 166.0,1255.3 174.0,1256.7 183.3,1256.0 191.3,1254.7 194.0,1250.0 194.7,1238.0 196.7,1227.3 193.3,1219.3 188.0,1214.0 185.3,1204.7 186.0,1198.0" fill="none" stroke="#000" stroke-width="1" stroke-linejoin="round" stroke-dasharray="1.2 1.6"/>
<polyline points="180.7,1198.0 180.7,1207.3 174.0,1216.7 175.3,1223.3 178.7,1231.3 178.0,1235.3 183.3,1238.7 190.0,1237.3 195.3,1232.7" fill="none" stroke="#000" stroke-width="1" stroke-linejoin="round" stroke-dasharray="1.2 1.6"/>
<polyline points="198.0,1198.0 200.0,1208.7 195.3,1218.0 192.7,1220.7 190.7,1226.0 191.3,1231.3" fill="none" stroke="#000" stroke-width="1" stroke-linejoin="round" stroke-dasharray="1.2 1.6"/>
<polyline points="158.0,1245.3 163.3,1242.0 170.0,1242.7 172.7,1246.0 166.0,1248.7 159.3,1247.3 158.0,1245.3" fill="none" stroke="#000" stroke-width="1" stroke-linejoin="round" stroke-dasharray="1.2 1.6"/>
<polyline points="136.7,1199.3 147.3,1201.3 153.3,1208.0 156.7,1204.0 157.3,1200.7" fill="none" stroke="#000" stroke-width="1" stroke-linejoin="round" stroke-dasharray="1.2 1.6"/>
<polyline points="138.0,1217.3 142.7,1215.3 148.0,1217.3 143.3,1219.3 138.0,1217.3" fill="none" stroke="#000" stroke-width="1" stroke-linejoin="round" stroke-dasharray="1.2 1.6"/>
<polyline points="118.0,1292.7 114.0,1290.7 111.3,1283.3 108.7,1274.0 112.7,1270.0 123.3,1270.0 134.0,1272.7 142.0,1278.7 142.0,1284.7 138.0,1291.3 134.0,1292.7" fill="none" stroke="#000" stroke-width="1" stroke-linejoin="round" stroke-dasharray="1.2 1.6"/>
<polyline points="112.7,1263.3 116.7,1262.0 122.0,1264.7" fill="none" stroke="#000" stroke-width="1" stroke-linejoin="round" stroke-dasharray="1.2 1.6"/>
<polyline points="142.0,1256.7 140.0,1260.7 142.7,1264.7 140.7,1268.7" fill="none" stroke="#000" stroke-width="1" stroke-linejoin="round" stroke-dasharray="1.2 1.6"/>
<polyline points="143.3,1256.7 144.0,1268.7" fill="none" stroke="#000" stroke-width="1" stroke-linejoin="round" stroke-dasharray="1.2 1.6"/>
<polyline points="158.7,1290.0 163.3,1287.3 171.3,1289.3 167.3,1292.7 162.0,1292.0 158.7,1290.0" fill="none" stroke="#000" stroke-width="1" stroke-linejoin="round" stroke-dasharray="1.2 1.6"/>
<polyline points="156.7,1310.7 162.0,1307.3 165.3,1309.3 163.3,1312.7 160.0,1314.7 156.7,1310.7" fill="none" stroke="#000" stroke-width="1" stroke-linejoin="round" stroke-dasharray="1.2 1.6"/>
<polyline points="224.7,1233.3 230.0,1231.3" fill="none" stroke="#000" stroke-width="1" stroke-linejoin="round" stroke-dasharray="1.2 1.6"/>
<polyline points="225.3,1239.3 224.0,1251.3 223.3,1262.0 221.3,1272.7 218.0,1283.3 216.0,1290.0 223.3,1291.3 230.0,1292.7" fill="none" stroke="#000" stroke-width="1" stroke-linejoin="round" stroke-dasharray="1.2 1.6"/>
<polyline points="227.3,1248.7 228.0,1267.3 230.0,1275.3" fill="none" stroke="#000" stroke-width="1" stroke-linejoin="round" stroke-dasharray="1.2 1.6"/>
<polyline points="215.3,1299.3 230.0,1298.0" fill="none" stroke="#000" stroke-width="1" stroke-linejoin="round" stroke-dasharray="1.2 1.6"/>
<polyline points="194.0,1279.3 195.3,1283.3 192.0,1283.3 194.0,1279.3" fill="none" stroke="#000" stroke-width="1" stroke-linejoin="round" stroke-dasharray="1.2 1.6"/>
<polyline points="172.0,1260.7 175.3,1260.7" fill="none" stroke="#000" stroke-width="1" stroke-linejoin="round" stroke-dasharray="1.2 1.6"/>
<polyline points="246.7,1198.0 246.0,1214.0 250.0,1223.3 252.7,1238.0 254.7,1244.7 258.7,1240.7 258.7,1234.0 260.7,1226.0 260.0,1218.0 262.7,1210.0 260.7,1198.0" fill="none" stroke="#000" stroke-width="1" stroke-linejoin="round" />
<polyline points="310.7,1198.0 310.7,1215.3 313.3,1231.3 314.0,1242.0 316.0,1246.7 319.3,1240.7 321.3,1234.0 319.3,1224.7 322.0,1211.3 320.7,1198.0" fill="none" stroke="#000" stroke-width="1" stroke-linejoin="round" />
<polyline points="314.3,1256.7 316.4,1258.7 316.4,1263.3 314.3,1263.3 314.3,1256.7" fill="none" stroke="#000" stroke-width="1" stroke-linejoin="round" />
<polyline points="235.3,1198.0 235.3,1208.7 232.7,1222.0 234.0,1231.3 240.7,1238.0 245.3,1247.3 239.3,1256.7 238.7,1268.7 240.7,1278.0 238.7,1283.3 230.0,1283.3" fill="none" stroke="#000" stroke-width="1" stroke-linejoin="round" stroke-dasharray="1.2 1.6"/>
<polyline points="286.0,1221.3 306.0,1219.3 306.0,1224.7 299.3,1230.0 286.0,1230.7 292.7,1236.7 299.3,1240.7 298.0,1245.3 288.7,1246.7 286.0,1244.0 292.7,1238.0" fill="none" stroke="#000" stroke-width="1" stroke-linejoin="round" stroke-dasharray="1.2 1.6"/>
<polyline points="288.7,1226.0 302.0,1223.3" fill="none" stroke="#000" stroke-width="1" stroke-linejoin="round" stroke-dasharray="1.2 1.6"/>
<polyline points="290.0,1234.0 299.3,1232.0" fill="none" stroke="#000" stroke-width="1" stroke-linejoin="round" stroke-dasharray="1.2 1.6"/>
<polyline points="286.0,1252.7 275.3,1250.7 274.7,1259.3" fill="none" stroke="#000" stroke-width="1" stroke-linejoin="round" stroke-dasharray="1.2 1.6"/>
<polyline points="275.3,1270.0 278.7,1275.3 279.3,1283.3 275.3,1286.0 272.7,1280.7 272.7,1275.3 275.3,1270.0" fill="none" stroke="#000" stroke-width="1" stroke-linejoin="round" stroke-dasharray="1.2 1.6"/>
<polyline points="274.0,1290.0 286.0,1286.0 296.7,1279.3 302.7,1284.7 323.3,1286.0 343.3,1286.7 345.3,1290.0 336.7,1292.7 323.3,1294.0 307.3,1294.0 294.0,1294.0 283.3,1292.7 274.0,1294.0" fill="none" stroke="#000" stroke-width="1" stroke-linejoin="round" stroke-dasharray="1.2 1.6"/>
<polyline points="260.7,1299.3 270.0,1300.7 283.3,1304.7 294.0,1308.7 304.7,1303.3 315.3,1300.7 323.3,1299.3" fill="none" stroke="#000" stroke-width="1" stroke-linejoin="round" stroke-dasharray="1.2 1.6"/>
<polyline points="304.7,1295.3 310.0,1297.3 320.7,1296.7 331.3,1294.0" fill="none" stroke="#000" stroke-width="1" stroke-linejoin="round" stroke-dasharray="1.2 1.6"/>
<polyline points="256.7,1308.7 260.7,1312.7" fill="none" stroke="#000" stroke-width="1" stroke-linejoin="round" stroke-dasharray="1.2 1.6"/>
<polyline points="270.0,1316.7 276.7,1311.3 283.3,1310.0 294.0,1304.7" fill="none" stroke="#000" stroke-width="1" stroke-linejoin="round" stroke-dasharray="1.2 1.6"/>
<polyline points="342.0,1297.3 346.0,1300.7 352.7,1302.0" fill="none" stroke="#000" stroke-width="1" stroke-linejoin="round" stroke-dasharray="1.2 1.6"/>
<polyline points="230.0,1297.3 235.3,1297.3" fill="none" stroke="#000" stroke-width="1" stroke-linejoin="round" stroke-dasharray="1.2 1.6"/>
<polyline points="274.0,1296.7 286.0,1299.3 292.7,1297.3" fill="none" stroke="#000" stroke-width="1" stroke-linejoin="round" stroke-dasharray="1.2 1.6"/>
<polyline points="263.3,1303.3 274.0,1307.3 283.3,1312.7" fill="none" stroke="#000" stroke-width="1" stroke-linejoin="round" stroke-dasharray="1.2 1.6"/>
<polyline points="414.7,1198.0 415.3,1204.7 414.0,1217.3" fill="none" stroke="#000" stroke-width="1" stroke-linejoin="round" />
<polyline points="434.0,1198.0 434.7,1203.3 428.7,1210.0 433.3,1212.0 421.3,1214.7 421.3,1216.7" fill="none" stroke="#000" stroke-width="1" stroke-linejoin="round" />
<polyline points="398.0,1198.0 396.7,1210.0 393.3,1217.3" fill="none" stroke="#000" stroke-width="1" stroke-linejoin="round" stroke-dasharray="1.2 1.6"/>
<polyline points="455.3,1207.3 460.7,1207.3 465.3,1214.7 458.7,1216.7 455.3,1215.3 455.3,1207.3" fill="none" stroke="#000" stroke-width="1" stroke-linejoin="round" stroke-dasharray="1.2 1.6"/>
<polyline points="494.0,1243.3 500.7,1239.3 501.3,1246.0 494.0,1246.7 494.0,1243.3" fill="none" stroke="#000" stroke-width="1" stroke-linejoin="round" stroke-dasharray="1.2 1.6"/>
<polyline points="489.3,1254.0 496.7,1255.3 503.3,1260.0 510.0,1260.0 518.0,1253.3 518.7,1242.0 523.3,1230.0 530.0,1228.7 535.3,1242.0" fill="none" stroke="#000" stroke-width="1" stroke-linejoin="round" stroke-dasharray="1.2 1.6"/>
<polyline points="529.3,1204.7 528.7,1212.7" fill="none" stroke="#000" stroke-width="1" stroke-linejoin="round" stroke-dasharray="1.2 1.6"/>
<polyline points="518.0,1252.7 528.7,1254.7" fill="none" stroke="#000" stroke-width="1" stroke-linejoin="round" stroke-dasharray="1.2 1.6"/>
<polyline points="523.3,1238.0 531.3,1240.7" fill="none" stroke="#000" stroke-width="1" stroke-linejoin="round" stroke-dasharray="1.2 1.6"/>
<polyline points="548.5,1106.5 553.0,1105.0 555.5,1108.5 551.5,1111.5 548.5,1106.5" fill="none" stroke="#000" stroke-width="1" stroke-linejoin="round" />
<polyline points="546.0,1119.0 553.0,1119.0 553.5,1121.0 555.0,1128.0 559.0,1129.5 556.5,1133.0 552.0,1134.0 550.0,1137.0 556.0,1137.0 556.5,1143.0 552.0,1144.5 544.0,1144.0 543.5,1139.0 546.0,1136.0 544.5,1130.0 547.5,1122.0 546.0,1119.0" fill="none" stroke="#000" stroke-width="1" stroke-linejoin="round" />
<polyline points="544.5,1149.0 550.0,1147.5 556.5,1149.0 550.0,1150.5 544.5,1149.0" fill="none" stroke="#000" stroke-width="1" stroke-linejoin="round" />
<polyline points="549.5,1157.2 559.0,1158.5 559.0,1161.0 550.0,1162.0" fill="none" stroke="#000" stroke-width="1" stroke-linejoin="round" />
<polyline points="559.5,1186.0 555.0,1191.0 553.0,1195.0 554.0,1200.0 552.0,1205.0" fill="none" stroke="#000" stroke-width="1" stroke-linejoin="round" />
<polyline points="546.0,1093.0 549.0,1098.0" fill="none" stroke="#000" stroke-width="1" stroke-linejoin="round" stroke-dasharray="1.2 1.6"/>
<polyline points="542.0,1102.0 546.0,1104.0" fill="none" stroke="#000" stroke-width="1" stroke-linejoin="round" stroke-dasharray="1.2 1.6"/>
<polyline points="555.0,1114.0 557.5,1120.0 557.0,1126.0" fill="none" stroke="#000" stroke-width="1" stroke-linejoin="round" stroke-dasharray="1.2 1.6"/>
<polyline points="542.0,1114.0 540.5,1130.0 541.0,1142.0" fill="none" stroke="#000" stroke-width="1" stroke-linejoin="round" stroke-dasharray="1.2 1.6"/>
</g>
<text x="63.10" y="1437.20" font-size="20.83" text-anchor="end" font-weight="normal" fill="#262626" >0</text>
<text x="63.10" y="1376.20" font-size="20.83" text-anchor="end" font-weight="normal" fill="#262626" >0.5</text>
<text x="63.10" y="1315.20" font-size="20.83" text-anchor="end" font-weight="normal" fill="#262626" >1</text>
<text x="63.10" y="1254.20" font-size="20.83" text-anchor="end" font-weight="normal" fill="#262626" >1.5</text>
<text x="63.10" y="1193.20" font-size="20.83" text-anchor="end" font-weight="normal" fill="#262626" >2</text>
<text x="63.10" y="1132.20" font-size="20.83" text-anchor="end" font-weight="normal" fill="#262626" >2.5</text>
<text x="71.50" y="1507.60" font-size="20.83" text-anchor="middle" font-weight="normal" fill="#262626" >0</text>
<text x="173.93" y="1507.60" font-size="20.83" text-anchor="middle" font-weight="normal" fill="#262626" >10</text>
<text x="275.36" y="1507.60" font-size="20.83" text-anchor="middle" font-weight="normal" fill="#262626" >20</text>
<text x="376.79" y="1507.60" font-size="20.83" text-anchor="middle" font-weight="normal" fill="#262626" >30</text>
<text x="478.22" y="1507.60" font-size="20.83" text-anchor="middle" font-weight="normal" fill="#262626" >40</text>
<text x="321.00" y="1537.00" font-size="22.9" text-anchor="middle" font-weight="normal" fill="#262626" >Profile Number</text>
<text x="316" y="1072" text-anchor="middle" font-size="22.9" font-weight="bold" fill="#000">Raw Float - mean(Float) on <tspan font-family="'Liberation Serif','DejaVu Serif',serif" font-style="italic" font-weight="normal" font-size="24.5">θ</tspan></text>
<line x1="731.50" y1="1081.50" x2="731.50" y2="1366.50" stroke="#dfdfdf" stroke-width="1" />
<line x1="833.50" y1="1081.50" x2="833.50" y2="1366.50" stroke="#dfdfdf" stroke-width="1" />
<line x1="934.50" y1="1081.50" x2="934.50" y2="1366.50" stroke="#dfdfdf" stroke-width="1" />
<line x1="1036.50" y1="1081.50" x2="1036.50" y2="1366.50" stroke="#dfdfdf" stroke-width="1" />
<line x1="630.50" y1="1330.50" x2="1127.50" y2="1330.50" stroke="#dfdfdf" stroke-width="1" />
<line x1="630.50" y1="1288.50" x2="1127.50" y2="1288.50" stroke="#dfdfdf" stroke-width="1" />
<line x1="630.50" y1="1246.50" x2="1127.50" y2="1246.50" stroke="#dfdfdf" stroke-width="1" />
<line x1="630.50" y1="1203.50" x2="1127.50" y2="1203.50" stroke="#dfdfdf" stroke-width="1" />
<line x1="630.50" y1="1161.50" x2="1127.50" y2="1161.50" stroke="#dfdfdf" stroke-width="1" />
<line x1="630.50" y1="1119.50" x2="1127.50" y2="1119.50" stroke="#dfdfdf" stroke-width="1" />
<polyline fill="none" stroke="#0000ff" stroke-width="1.3" stroke-linecap="round" stroke-dasharray="0.01 4" points="640.6,1224.8 650.8,1233.5 660.9,1223.8 671.1,1211.8 681.2,1227.4 691.4,1216.6 701.5,1207.9 711.6,1227.0 721.8,1215.1 731.9,1217.7 742.1,1226.4 752.2,1211.4 762.4,1235.2 772.5,1226.4 782.6,1226.4 792.8,1222.7 802.9,1205.3 813.1,1186.5 823.2,1211.2 833.4,1204.3 843.5,1216.6 853.6,1215.1 863.8,1216.6 873.9,1186.5 884.1,1215.5 894.2,1208.2 904.4,1211.8 914.5,1208.2 924.6,1216.2 944.9,1210.8 975.4,1246.9 985.5,1247.6 995.6,1237.8 1005.8,1241.7 1015.9,1218.8 1026.1,1236.8 1036.2,1224.8 1046.4,1232.4 1056.5,1233.5 1066.6,1234.2 1076.8,1229.8 1086.9,1223.3 1097.1,1233.9 1107.2,1233.1 1117.4,1263.0"/>
<path d="M634.00 1224.50H647.00M640.50 1218.00V1231.00M635.90 1219.90L645.10 1229.10M635.90 1229.10L645.10 1219.90" stroke="#0000ff" stroke-width="1" fill="none"/>
<path d="M644.00 1233.50H657.00M650.50 1227.00V1240.00M645.90 1228.90L655.10 1238.10M645.90 1238.10L655.10 1228.90" stroke="#0000ff" stroke-width="1" fill="none"/>
<path d="M654.00 1223.50H667.00M660.50 1217.00V1230.00M655.90 1218.90L665.10 1228.10M655.90 1228.10L665.10 1218.90" stroke="#0000ff" stroke-width="1" fill="none"/>
<path d="M665.00 1211.50H678.00M671.50 1205.00V1218.00M666.90 1206.90L676.10 1216.10M666.90 1216.10L676.10 1206.90" stroke="#0000ff" stroke-width="1" fill="none"/>
<path d="M675.00 1227.50H688.00M681.50 1221.00V1234.00M676.90 1222.90L686.10 1232.10M676.90 1232.10L686.10 1222.90" stroke="#0000ff" stroke-width="1" fill="none"/>
<path d="M685.00 1216.50H698.00M691.50 1210.00V1223.00M686.90 1211.90L696.10 1221.10M686.90 1221.10L696.10 1211.90" stroke="#0000ff" stroke-width="1" fill="none"/>
<path d="M695.00 1207.50H708.00M701.50 1201.00V1214.00M696.90 1202.90L706.10 1212.10M696.90 1212.10L706.10 1202.90" stroke="#0000ff" stroke-width="1" fill="none"/>
<path d="M705.00 1227.50H718.00M711.50 1221.00V1234.00M706.90 1222.90L716.10 1232.10M706.90 1232.10L716.10 1222.90" stroke="#0000ff" stroke-width="1" fill="none"/>
<path d="M715.00 1215.50H728.00M721.50 1209.00V1222.00M716.90 1210.90L726.10 1220.10M716.90 1220.10L726.10 1210.90" stroke="#0000ff" stroke-width="1" fill="none"/>
<path d="M725.00 1217.50H738.00M731.50 1211.00V1224.00M726.90 1212.90L736.10 1222.10M726.90 1222.10L736.10 1212.90" stroke="#0000ff" stroke-width="1" fill="none"/>
<path d="M736.00 1226.50H749.00M742.50 1220.00V1233.00M737.90 1221.90L747.10 1231.10M737.90 1231.10L747.10 1221.90" stroke="#0000ff" stroke-width="1" fill="none"/>
<path d="M746.00 1211.50H759.00M752.50 1205.00V1218.00M747.90 1206.90L757.10 1216.10M747.90 1216.10L757.10 1206.90" stroke="#0000ff" stroke-width="1" fill="none"/>
<path d="M756.00 1235.50H769.00M762.50 1229.00V1242.00M757.90 1230.90L767.10 1240.10M757.90 1240.10L767.10 1230.90" stroke="#0000ff" stroke-width="1" fill="none"/>
<path d="M766.00 1226.50H779.00M772.50 1220.00V1233.00M767.90 1221.90L777.10 1231.10M767.90 1231.10L777.10 1221.90" stroke="#0000ff" stroke-width="1" fill="none"/>
<path d="M776.00 1226.50H789.00M782.50 1220.00V1233.00M777.90 1221.90L787.10 1231.10M777.90 1231.10L787.10 1221.90" stroke="#0000ff" stroke-width="1" fill="none"/>
<path d="M786.00 1222.50H799.00M792.50 1216.00V1229.00M787.90 1217.90L797.10 1227.10M787.90 1227.10L797.10 1217.90" stroke="#0000ff" stroke-width="1" fill="none"/>
<path d="M796.00 1205.50H809.00M802.50 1199.00V1212.00M797.90 1200.90L807.10 1210.10M797.90 1210.10L807.10 1200.90" stroke="#0000ff" stroke-width="1" fill="none"/>
<path d="M807.00 1186.50H820.00M813.50 1180.00V1193.00M808.90 1181.90L818.10 1191.10M808.90 1191.10L818.10 1181.90" stroke="#0000ff" stroke-width="1" fill="none"/>
<path d="M817.00 1211.50H830.00M823.50 1205.00V1218.00M818.90 1206.90L828.10 1216.10M818.90 1216.10L828.10 1206.90" stroke="#0000ff" stroke-width="1" fill="none"/>
<path d="M827.00 1204.50H840.00M833.50 1198.00V1211.00M828.90 1199.90L838.10 1209.10M828.90 1209.10L838.10 1199.90" stroke="#0000ff" stroke-width="1" fill="none"/>
<path d="M837.00 1216.50H850.00M843.50 1210.00V1223.00M838.90 1211.90L848.10 1221.10M838.90 1221.10L848.10 1211.90" stroke="#0000ff" stroke-width="1" fill="none"/>
<path d="M847.00 1215.50H860.00M853.50 1209.00V1222.00M848.90 1210.90L858.10 1220.10M848.90 1220.10L858.10 1210.90" stroke="#0000ff" stroke-width="1" fill="none"/>
<path d="M857.00 1216.50H870.00M863.50 1210.00V1223.00M858.90 1211.90L868.10 1221.10M858.90 1221.10L868.10 1211.90" stroke="#0000ff" stroke-width="1" fill="none"/>
<path d="M867.00 1186.50H880.00M873.50 1180.00V1193.00M868.90 1181.90L878.10 1191.10M868.90 1191.10L878.10 1181.90" stroke="#0000ff" stroke-width="1" fill="none"/>
<path d="M878.00 1215.50H891.00M884.50 1209.00V1222.00M879.90 1210.90L889.10 1220.10M879.90 1220.10L889.10 1210.90" stroke="#0000ff" stroke-width="1" fill="none"/>
<path d="M888.00 1208.50H901.00M894.50 1202.00V1215.00M889.90 1203.90L899.10 1213.10M889.90 1213.10L899.10 1203.90" stroke="#0000ff" stroke-width="1" fill="none"/>
<path d="M898.00 1211.50H911.00M904.50 1205.00V1218.00M899.90 1206.90L909.10 1216.10M899.90 1216.10L909.10 1206.90" stroke="#0000ff" stroke-width="1" fill="none"/>
<path d="M908.00 1208.50H921.00M914.50 1202.00V1215.00M909.90 1203.90L919.10 1213.10M909.90 1213.10L919.10 1203.90" stroke="#0000ff" stroke-width="1" fill="none"/>
<path d="M918.00 1216.50H931.00M924.50 1210.00V1223.00M919.90 1211.90L929.10 1221.10M919.90 1221.10L929.10 1211.90" stroke="#0000ff" stroke-width="1" fill="none"/>
<path d="M938.00 1210.50H951.00M944.50 1204.00V1217.00M939.90 1205.90L949.10 1215.10M939.90 1215.10L949.10 1205.90" stroke="#0000ff" stroke-width="1" fill="none"/>
<path d="M969.00 1246.50H982.00M975.50 1240.00V1253.00M970.90 1241.90L980.10 1251.10M970.90 1251.10L980.10 1241.90" stroke="#0000ff" stroke-width="1" fill="none"/>
<path d="M979.00 1247.50H992.00M985.50 1241.00V1254.00M980.90 1242.90L990.10 1252.10M980.90 1252.10L990.10 1242.90" stroke="#0000ff" stroke-width="1" fill="none"/>
<path d="M989.00 1237.50H1002.00M995.50 1231.00V1244.00M990.90 1232.90L1000.10 1242.10M990.90 1242.10L1000.10 1232.90" stroke="#0000ff" stroke-width="1" fill="none"/>
<path d="M999.00 1241.50H1012.00M1005.50 1235.00V1248.00M1000.90 1236.90L1010.10 1246.10M1000.90 1246.10L1010.10 1236.90" stroke="#0000ff" stroke-width="1" fill="none"/>
<path d="M1009.00 1218.50H1022.00M1015.50 1212.00V1225.00M1010.90 1213.90L1020.10 1223.10M1010.90 1223.10L1020.10 1213.90" stroke="#0000ff" stroke-width="1" fill="none"/>
<path d="M1020.00 1236.50H1033.00M1026.50 1230.00V1243.00M1021.90 1231.90L1031.10 1241.10M1021.90 1241.10L1031.10 1231.90" stroke="#0000ff" stroke-width="1" fill="none"/>
<path d="M1030.00 1224.50H1043.00M1036.50 1218.00V1231.00M1031.90 1219.90L1041.10 1229.10M1031.90 1229.10L1041.10 1219.90" stroke="#0000ff" stroke-width="1" fill="none"/>
<path d="M1040.00 1232.50H1053.00M1046.50 1226.00V1239.00M1041.90 1227.90L1051.10 1237.10M1041.90 1237.10L1051.10 1227.90" stroke="#0000ff" stroke-width="1" fill="none"/>
<path d="M1050.00 1233.50H1063.00M1056.50 1227.00V1240.00M1051.90 1228.90L1061.10 1238.10M1051.90 1238.10L1061.10 1228.90" stroke="#0000ff" stroke-width="1" fill="none"/>
<path d="M1060.00 1234.50H1073.00M1066.50 1228.00V1241.00M1061.90 1229.90L1071.10 1239.10M1061.90 1239.10L1071.10 1229.90" stroke="#0000ff" stroke-width="1" fill="none"/>
<path d="M1070.00 1229.50H1083.00M1076.50 1223.00V1236.00M1071.90 1224.90L1081.10 1234.10M1071.90 1234.10L1081.10 1224.90" stroke="#0000ff" stroke-width="1" fill="none"/>
<path d="M1080.00 1223.50H1093.00M1086.50 1217.00V1230.00M1081.90 1218.90L1091.10 1228.10M1081.90 1228.10L1091.10 1218.90" stroke="#0000ff" stroke-width="1" fill="none"/>
<path d="M1091.00 1233.50H1104.00M1097.50 1227.00V1240.00M1092.90 1228.90L1102.10 1238.10M1092.90 1238.10L1102.10 1228.90" stroke="#0000ff" stroke-width="1" fill="none"/>
<path d="M1101.00 1233.50H1114.00M1107.50 1227.00V1240.00M1102.90 1228.90L1112.10 1238.10M1102.90 1238.10L1112.10 1228.90" stroke="#0000ff" stroke-width="1" fill="none"/>
<path d="M1111.00 1263.50H1124.00M1117.50 1257.00V1270.00M1112.90 1258.90L1122.10 1268.10M1112.90 1268.10L1122.10 1258.90" stroke="#0000ff" stroke-width="1" fill="none"/>
<polyline fill="none" stroke="#000" stroke-width="1" stroke-dasharray="8 3 2 3" points="853.6,1215.1 863.8,1216.6 873.9,1186.5"/>
<circle cx="802.9" cy="1205.3" r="6" fill="none" stroke="#000" stroke-width="1"/>
<circle cx="853.6" cy="1215.1" r="6" fill="none" stroke="#000" stroke-width="1"/>
<circle cx="863.8" cy="1216.6" r="6" fill="none" stroke="#000" stroke-width="1"/>
<circle cx="873.9" cy="1186.5" r="6" fill="none" stroke="#000" stroke-width="1"/>
<polyline fill="none" stroke="#00ff00" stroke-width="1" points="640.6,1127.3 650.8,1127.3 660.9,1127.3 671.1,1127.3 681.2,1127.3 691.4,1127.3"/>
<circle cx="640.6" cy="1127.3" r="2.6" fill="#00ff00"/>
<circle cx="650.8" cy="1127.3" r="2.6" fill="#00ff00"/>
<circle cx="660.9" cy="1127.3" r="2.6" fill="#00ff00"/>
<circle cx="671.1" cy="1127.3" r="2.6" fill="#00ff00"/>
<circle cx="681.2" cy="1127.3" r="2.6" fill="#00ff00"/>
<circle cx="691.4" cy="1127.3" r="2.6" fill="#00ff00"/>
<rect x="630.5" y="1081.5" width="497.0" height="285.0" fill="none" stroke="#262626" stroke-width="1"/>
<line x1="731.50" y1="1366.50" x2="731.50" y2="1362.50" stroke="#262626" stroke-width="1" />
<line x1="731.50" y1="1081.50" x2="731.50" y2="1085.50" stroke="#262626" stroke-width="1" />
<line x1="833.50" y1="1366.50" x2="833.50" y2="1362.50" stroke="#262626" stroke-width="1" />
<line x1="833.50" y1="1081.50" x2="833.50" y2="1085.50" stroke="#262626" stroke-width="1" />
<line x1="934.50" y1="1366.50" x2="934.50" y2="1362.50" stroke="#262626" stroke-width="1" />
<line x1="934.50" y1="1081.50" x2="934.50" y2="1085.50" stroke="#262626" stroke-width="1" />
<line x1="1036.50" y1="1366.50" x2="1036.50" y2="1362.50" stroke="#262626" stroke-width="1" />
<line x1="1036.50" y1="1081.50" x2="1036.50" y2="1085.50" stroke="#262626" stroke-width="1" />
<line x1="630.50" y1="1330.50" x2="634.50" y2="1330.50" stroke="#262626" stroke-width="1" />
<line x1="1127.50" y1="1330.50" x2="1123.50" y2="1330.50" stroke="#262626" stroke-width="1" />
<line x1="630.50" y1="1288.50" x2="634.50" y2="1288.50" stroke="#262626" stroke-width="1" />
<line x1="1127.50" y1="1288.50" x2="1123.50" y2="1288.50" stroke="#262626" stroke-width="1" />
<line x1="630.50" y1="1246.50" x2="634.50" y2="1246.50" stroke="#262626" stroke-width="1" />
<line x1="1127.50" y1="1246.50" x2="1123.50" y2="1246.50" stroke="#262626" stroke-width="1" />
<line x1="630.50" y1="1203.50" x2="634.50" y2="1203.50" stroke="#262626" stroke-width="1" />
<line x1="1127.50" y1="1203.50" x2="1123.50" y2="1203.50" stroke="#262626" stroke-width="1" />
<line x1="630.50" y1="1161.50" x2="634.50" y2="1161.50" stroke="#262626" stroke-width="1" />
<line x1="1127.50" y1="1161.50" x2="1123.50" y2="1161.50" stroke="#262626" stroke-width="1" />
<line x1="630.50" y1="1119.50" x2="634.50" y2="1119.50" stroke="#262626" stroke-width="1" />
<line x1="1127.50" y1="1119.50" x2="1123.50" y2="1119.50" stroke="#262626" stroke-width="1" />
<text x="620.70" y="1338.45" font-size="20.83" text-anchor="end" font-weight="normal" fill="#262626" >34.88</text>
<text x="620.70" y="1296.35" font-size="20.83" text-anchor="end" font-weight="normal" fill="#262626" >34.9</text>
<text x="620.70" y="1254.25" font-size="20.83" text-anchor="end" font-weight="normal" fill="#262626" >34.92</text>
<text x="620.70" y="1212.15" font-size="20.83" text-anchor="end" font-weight="normal" fill="#262626" >34.94</text>
<text x="620.70" y="1170.05" font-size="20.83" text-anchor="end" font-weight="normal" fill="#262626" >34.96</text>
<text x="620.70" y="1127.95" font-size="20.83" text-anchor="end" font-weight="normal" fill="#262626" >34.98</text>
<text x="629.50" y="1396.50" font-size="20.83" text-anchor="middle" font-weight="normal" fill="#262626" >0</text>
<text x="731.93" y="1396.50" font-size="20.83" text-anchor="middle" font-weight="normal" fill="#262626" >10</text>
<text x="833.36" y="1396.50" font-size="20.83" text-anchor="middle" font-weight="normal" fill="#262626" >20</text>
<text x="934.79" y="1396.50" font-size="20.83" text-anchor="middle" font-weight="normal" fill="#262626" >30</text>
<text x="1036.22" y="1396.50" font-size="20.83" text-anchor="middle" font-weight="normal" fill="#262626" >40</text>
<text x="879.00" y="1424.50" font-size="22.9" text-anchor="middle" font-weight="normal" fill="#262626" >Profile Number for SN 20915</text>
<text x="767.50" y="1072.00" font-size="22.9" text-anchor="start" font-weight="bold" fill="#000" >S on</text>
<text x="832" y="1072" font-family="'Liberation Serif','DejaVu Serif',serif" font-style="italic" font-size="24.5" fill="#000">θ</text>
<text x="852.30" y="1072.00" font-size="22.9" text-anchor="start" font-weight="bold" fill="#000" >= 1.8128</text>
<text x="968.00" y="1063.70" font-size="20" text-anchor="start" font-weight="bold" fill="#000" >o</text>
<text x="982.60" y="1072.00" font-size="22.9" text-anchor="start" font-weight="bold" fill="#000" >C</text>
<g transform="translate(549,1224) rotate(-90)"><text x="0" y="0" text-anchor="middle" fill="#262626" font-size="22.9">Salinity</text></g>
<rect x="624.5" y="1446.5" width="503" height="30" fill="#fff" stroke="#262626" stroke-width="1"/>
<line x1="630.00" y1="1462.50" x2="691.00" y2="1462.50" stroke="#0000ff" stroke-width="1.5" stroke-dasharray="1.2 2.8"/>
<path d="M655.00 1462.50H668.00M661.50 1456.00V1469.00M656.90 1457.90L666.10 1467.10M656.90 1467.10L666.10 1457.90" stroke="#0000ff" stroke-width="1" fill="none"/>
<text x="697.50" y="1469.50" font-size="20.83" text-anchor="start" font-weight="normal" fill="#000" >Raw</text>
<line x1="754.25" y1="1462.50" x2="815.00" y2="1462.50" stroke="#000" stroke-width="1" stroke-dasharray="8 3 2 3"/>
<circle cx="785.5" cy="1462" r="6" fill="none" stroke="#000" stroke-width="1"/>
<text x="821.25" y="1469.50" font-size="20.83" text-anchor="start" font-weight="normal" fill="#000" >Adj</text>
<line x1="867.00" y1="1462.50" x2="928.75" y2="1462.50" stroke="#ff00ff" stroke-width="1" />
<circle cx="898.75" cy="1462" r="3" fill="#ff00ff"/>
<text x="935.00" y="1469.50" font-size="20.83" text-anchor="start" font-weight="normal" fill="#000" >Atlas</text>
<line x1="998.25" y1="1462.50" x2="1059.50" y2="1462.50" stroke="#00ff00" stroke-width="1" />
<circle cx="1029.25" cy="1462" r="3" fill="#00ff00"/>
<text x="1065.50" y="1469.50" font-size="20.83" text-anchor="start" font-weight="normal" fill="#000" >CARS</text>
<text x="48.30" y="1549.00" font-size="16.67" text-anchor="start" font-weight="normal" fill="#000" >WHOI Argo:28-Aug-2025</text>
<text x="768.00" y="1549.00" font-size="16.67" text-anchor="start" font-weight="normal" fill="#000" >LOPS at coriolis</text>
</svg>
</body></html>
